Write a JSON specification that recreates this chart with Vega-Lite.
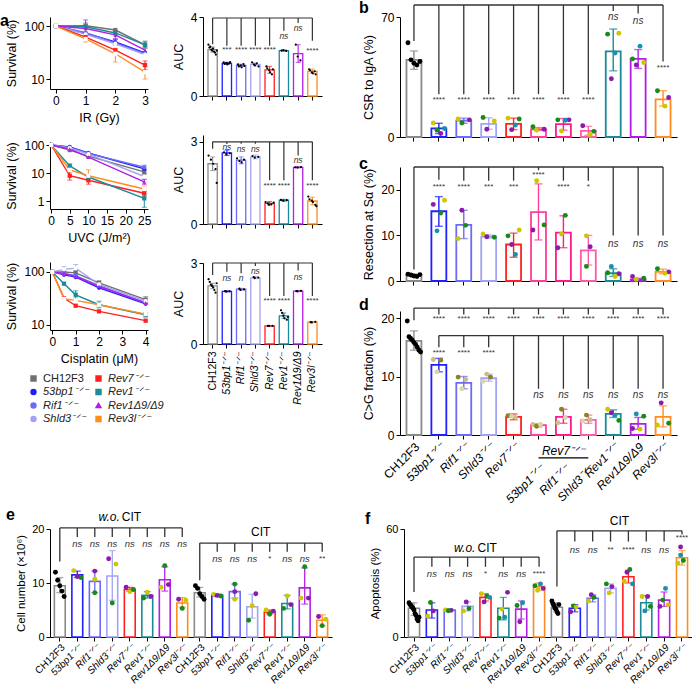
{
"$schema": "https://vega.github.io/schema/vega-lite/v6.json",
"background": "white",
"padding": {"left": 0, "top": 0, "right": 0, "bottom": 0},
"spacing": 1,
"resolve": {"scale": {"color": "independent", "fill": "independent", "shape": "independent", "xOffset": "independent"}, "legend": {"color": "independent", "fill": "independent", "shape": "independent"}},
"vconcat": [
{"spacing": 37,
 "resolve": {"scale": {"color": "independent", "fill": "independent", "shape": "independent", "xOffset": "independent"}, "legend": {"color": "independent", "fill": "independent", "shape": "independent"}},
 "hconcat": [
  {"spacing": 8,
   "resolve": {"scale": {"color": "independent", "fill": "independent", "shape": "independent", "xOffset": "independent"}, "legend": {"color": "independent", "fill": "independent", "shape": "independent"}},
   "hconcat": [
    {"bounds": "flush", "spacing": 53,
     "resolve": {"scale": {"color": "independent", "fill": "independent", "shape": "independent", "xOffset": "independent"}, "legend": {"color": "independent", "fill": "independent", "shape": "independent"}},
     "vconcat": [
      {"width": 98, "height": 72,
       "title": {"text": "a", "dx": -50, "offset": -12},
       "data": {"name": "ir"},
       "encoding": {
        "x": {"field": "x", "type": "quantitative", "scale": {"domain": [-0.2, 3.1], "nice": false, "zero": false}, "axis": {"values": [0,1,2,3], "title": "IR (Gy)"}},
        "y": {"field": "v", "type": "quantitative", "scale": {"type": "log", "domain": [6.5, 148], "nice": false}, "axis": {"values": [10, 100], "title": "Survival (%)"}},
        "color": {"field": "g", "type": "nominal", "scale": {"domain": ["CH12F3","53bp1⁻ᐟ⁻","Rif1⁻ᐟ⁻","Shld3⁻ᐟ⁻","Rev7⁻ᐟ⁻","Rev1⁻ᐟ⁻","Rev1Δ9/Δ9","Rev3l⁻ᐟ⁻"], "range": ["#707070","#1f1fff","#6b6bf5","#a3a3f5","#ff1f1f","#1b8a98","#b21ee8","#ff8c1f"]}, "legend": null}
       },
       "layer": [
        {"mark": {"type": "line", "strokeWidth": 1.4}},
        {"data": {"name": "irE"}, "mark": {"type": "errorbar", "ticks": {"size": 5}, "thickness": 1},
         "encoding": {"y": {"field": "lo", "type": "quantitative", "title": "Survival (%)"}, "y2": {"field": "hi"}}},
        {"mark": {"type": "point", "filled": true, "size": 18, "opacity": 1},
         "encoding": {
          "shape": {"field": "g", "type": "nominal", "scale": {"domain": ["CH12F3","53bp1⁻ᐟ⁻","Rif1⁻ᐟ⁻","Shld3⁻ᐟ⁻","Rev7⁻ᐟ⁻","Rev1⁻ᐟ⁻","Rev1Δ9/Δ9","Rev3l⁻ᐟ⁻"], "range": ["square","circle","circle","circle","square","square","triangle-up","square"]}, "legend": null},
          "fill": {"field": "g", "type": "nominal", "scale": {"domain": ["CH12F3","53bp1⁻ᐟ⁻","Rif1⁻ᐟ⁻","Shld3⁻ᐟ⁻","Rev7⁻ᐟ⁻","Rev1⁻ᐟ⁻","Rev1Δ9/Δ9","Rev3l⁻ᐟ⁻"], "range": ["#707070","#1f1fff","#6b6bf5","#ffffff","#ff1f1f","#1b8a98","#b21ee8","#ffffff"]}, "legend": null}}}
       ]},
      {"width": 98, "height": 67,
       "data": {"name": "uvc"},
       "encoding": {
        "x": {"field": "x", "type": "quantitative", "scale": {"domain": [-0.3, 26], "nice": false, "zero": false}, "axis": {"values": [0,5,10,15,20,25], "title": "UVC (J/m²)"}},
        "y": {"field": "v", "type": "quantitative", "scale": {"type": "log", "domain": [0.52, 128], "nice": false}, "axis": {"values": [1, 10, 100], "title": "Survival (%)"}},
        "color": {"field": "g", "type": "nominal", "scale": {"domain": ["CH12F3","53bp1⁻ᐟ⁻","Rif1⁻ᐟ⁻","Shld3⁻ᐟ⁻","Rev7⁻ᐟ⁻","Rev1⁻ᐟ⁻","Rev1Δ9/Δ9","Rev3l⁻ᐟ⁻"], "range": ["#707070","#1f1fff","#6b6bf5","#a3a3f5","#ff1f1f","#1b8a98","#b21ee8","#ff8c1f"]}, "legend": null}
       },
       "layer": [
        {"mark": {"type": "line", "strokeWidth": 1.4}},
        {"data": {"name": "uvcE"}, "mark": {"type": "errorbar", "ticks": {"size": 5}, "thickness": 1},
         "encoding": {"y": {"field": "lo", "type": "quantitative", "title": "Survival (%)"}, "y2": {"field": "hi"}}},
        {"mark": {"type": "point", "filled": true, "size": 18, "opacity": 1},
         "encoding": {
          "shape": {"field": "g", "type": "nominal", "scale": {"domain": ["CH12F3","53bp1⁻ᐟ⁻","Rif1⁻ᐟ⁻","Shld3⁻ᐟ⁻","Rev7⁻ᐟ⁻","Rev1⁻ᐟ⁻","Rev1Δ9/Δ9","Rev3l⁻ᐟ⁻"], "range": ["square","circle","circle","circle","square","square","triangle-up","square"]}, "legend": null},
          "fill": {"field": "g", "type": "nominal", "scale": {"domain": ["CH12F3","53bp1⁻ᐟ⁻","Rif1⁻ᐟ⁻","Shld3⁻ᐟ⁻","Rev7⁻ᐟ⁻","Rev1⁻ᐟ⁻","Rev1Δ9/Δ9","Rev3l⁻ᐟ⁻"], "range": ["#707070","#1f1fff","#6b6bf5","#ffffff","#ff1f1f","#1b8a98","#b21ee8","#ffffff"]}, "legend": null}}}
       ]},
      {"width": 98, "height": 68,
       "data": {"name": "cis"},
       "encoding": {
        "x": {"field": "x", "type": "quantitative", "scale": {"domain": [-0.1, 4.1], "nice": false, "zero": false}, "axis": {"values": [0,1,2,3,4], "title": "Cisplatin (μM)"}},
        "y": {"field": "v", "type": "quantitative", "scale": {"type": "log", "domain": [8, 154], "nice": false}, "axis": {"values": [10, 100], "title": "Survival (%)"}},
        "color": {"field": "g", "type": "nominal", "scale": {"domain": ["CH12F3","53bp1⁻ᐟ⁻","Rif1⁻ᐟ⁻","Shld3⁻ᐟ⁻","Rev7⁻ᐟ⁻","Rev1⁻ᐟ⁻","Rev1Δ9/Δ9","Rev3l⁻ᐟ⁻"], "range": ["#707070","#1f1fff","#6b6bf5","#a3a3f5","#ff1f1f","#1b8a98","#b21ee8","#ff8c1f"]},
          "legend": {"title": null, "orient": "none", "legendX": -22, "legendY": 111, "columns": 2, "columnPadding": 4, "rowPadding": 1.5, "labelFontSize": 11, "symbolSize": 24, "labelOffset": 4, "symbolStrokeWidth": 1.5, "labelColor": "#222",
            "encode": {"labels": {"update": {"fontStyle": {"signal": "datum.label === 'CH12F3' ? 'normal' : 'italic'"}}}}}}
       },
       "layer": [
        {"mark": {"type": "line", "strokeWidth": 1.4}},
        {"data": {"name": "cisE"}, "mark": {"type": "errorbar", "ticks": {"size": 5}, "thickness": 1},
         "encoding": {"y": {"field": "lo", "type": "quantitative", "title": "Survival (%)"}, "y2": {"field": "hi"}}},
        {"mark": {"type": "point", "filled": true, "size": 18, "opacity": 1},
         "encoding": {
          "shape": {"field": "g", "type": "nominal", "scale": {"domain": ["CH12F3","53bp1⁻ᐟ⁻","Rif1⁻ᐟ⁻","Shld3⁻ᐟ⁻","Rev7⁻ᐟ⁻","Rev1⁻ᐟ⁻","Rev1Δ9/Δ9","Rev3l⁻ᐟ⁻"], "range": ["square","circle","circle","circle","square","square","triangle-up","square"]}},
          "fill": {"field": "g", "type": "nominal", "scale": {"domain": ["CH12F3","53bp1⁻ᐟ⁻","Rif1⁻ᐟ⁻","Shld3⁻ᐟ⁻","Rev7⁻ᐟ⁻","Rev1⁻ᐟ⁻","Rev1Δ9/Δ9","Rev3l⁻ᐟ⁻"], "range": ["#707070","#1f1fff","#6b6bf5","#ffffff","#ff1f1f","#1b8a98","#b21ee8","#ffffff"]}}}}
       ]}
     ]},
    {"bounds": "flush", "spacing": 39,
     "resolve": {"scale": {"color": "independent", "fill": "independent", "shape": "independent", "xOffset": "independent"}, "legend": {"color": "independent", "fill": "independent", "shape": "independent"}},
     "vconcat": [
      {"width": 119, "height": 79,
       "title": {"text": " ", "offset": -12},
       "resolve": {"scale": {"color": "independent", "xOffset": "independent"}},
       "layer": [
        {"data": {"name": "a1"}, "mark": {"type": "bar", "filled": false, "strokeWidth": 1.3},
         "encoding": {"x": {"field": "g", "type": "nominal", "title": null, "scale": {"domain": ["CH12F3","53bp1⁻ᐟ⁻","Rif1⁻ᐟ⁻","Shld3⁻ᐟ⁻","Rev7⁻ᐟ⁻","Rev1⁻ᐟ⁻","Rev1Δ9/Δ9","Rev3l⁻ᐟ⁻"], "paddingInner": 0.35, "paddingOuter": 0.35}, "axis": {"labels": false}},
          "y": {"field": "v", "type": "quantitative", "title": "AUC", "scale": {"domain": [0, 4], "nice": false}, "axis": {"values": [0,1,2,3,4]}},
          "color": {"field": "g", "type": "nominal", "scale": {"domain": ["CH12F3","53bp1⁻ᐟ⁻","Rif1⁻ᐟ⁻","Shld3⁻ᐟ⁻","Rev7⁻ᐟ⁻","Rev1⁻ᐟ⁻","Rev1Δ9/Δ9","Rev3l⁻ᐟ⁻"], "range": ["#8a8a8a","#1f1fff","#6b6bf5","#a3a3f5","#ff2020","#1b8a98","#b21ee8","#ff8c1f"]}, "legend": null}}},
        {"data": {"name": "a1"}, "mark": {"type": "errorbar", "ticks": {"size": 5}, "thickness": 1.1},
         "encoding": {"x": {"field": "g", "type": "nominal", "title": null}, "y": {"field": "lo", "type": "quantitative", "title": "AUC"}, "y2": {"field": "hi"},
          "color": {"field": "g", "type": "nominal", "scale": {"domain": ["CH12F3","53bp1⁻ᐟ⁻","Rif1⁻ᐟ⁻","Shld3⁻ᐟ⁻","Rev7⁻ᐟ⁻","Rev1⁻ᐟ⁻","Rev1Δ9/Δ9","Rev3l⁻ᐟ⁻"], "range": ["#8a8a8a","#1f1fff","#6b6bf5","#a3a3f5","#ff2020","#1b8a98","#b21ee8","#ff8c1f"]}, "legend": null}}},
        {"data": {"name": "a1p"}, "mark": {"type": "circle", "size": 5, "opacity": 1, "color": "#000"},
         "encoding": {"x": {"field": "g", "type": "nominal", "title": null}, "xOffset": {"field": "n", "type": "ordinal"}, "y": {"field": "v", "type": "quantitative", "title": "AUC"}}},
        {"data": {"name": "a1s"}, "mark": {"type": "rule", "color": "#333", "strokeWidth": 1.2},
         "encoding": {"x": {"field": "g", "type": "nominal", "title": null}, "y": {"field": "t", "type": "quantitative", "title": "AUC"}, "y2": {"field": "b"}}},
        {"data": {"values": [{}]}, "mark": {"type": "rule", "color": "#333", "strokeWidth": 1.2},
         "encoding": {"x": {"datum": "CH12F3"}, "x2": {"datum": "Rev3l⁻ᐟ⁻"}, "y": {"datum": 3.95}}},
        {"data": {"name": "a1s"}, "transform": [{"filter": "datum.lab == 'ns' || datum.lab == 'n'"}], "mark": {"type": "text", "fontSize": 8.5, "fontStyle": "italic", "color": "#333"},
         "encoding": {"x": {"field": "g", "type": "nominal", "title": null}, "y": {"field": "ly", "type": "quantitative", "title": "AUC"}, "text": {"field": "lab"}}},
        {"data": {"name": "a1s"}, "transform": [{"filter": "indexof(datum.lab, '*') >= 0"}], "mark": {"type": "text", "fontSize": 8, "color": "#333"},
         "encoding": {"x": {"field": "g", "type": "nominal", "title": null}, "y": {"field": "ly", "type": "quantitative", "title": "AUC"}, "text": {"field": "lab"}}}
       ]},
      {"width": 119, "height": 89,
       "resolve": {"scale": {"color": "independent", "xOffset": "independent"}},
       "layer": [
        {"data": {"name": "a2"}, "mark": {"type": "bar", "filled": false, "strokeWidth": 1.3},
         "encoding": {"x": {"field": "g", "type": "nominal", "title": null, "scale": {"domain": ["CH12F3","53bp1⁻ᐟ⁻","Rif1⁻ᐟ⁻","Shld3⁻ᐟ⁻","Rev7⁻ᐟ⁻","Rev1⁻ᐟ⁻","Rev1Δ9/Δ9","Rev3l⁻ᐟ⁻"], "paddingInner": 0.35, "paddingOuter": 0.35}, "axis": {"labels": false}},
          "y": {"field": "v", "type": "quantitative", "title": "AUC", "scale": {"domain": [0, 3.25], "nice": false}, "axis": {"values": [0,1,2,3]}},
          "color": {"field": "g", "type": "nominal", "scale": {"domain": ["CH12F3","53bp1⁻ᐟ⁻","Rif1⁻ᐟ⁻","Shld3⁻ᐟ⁻","Rev7⁻ᐟ⁻","Rev1⁻ᐟ⁻","Rev1Δ9/Δ9","Rev3l⁻ᐟ⁻"], "range": ["#8a8a8a","#1f1fff","#6b6bf5","#a3a3f5","#ff2020","#1b8a98","#b21ee8","#ff8c1f"]}, "legend": null}}},
        {"data": {"name": "a2"}, "mark": {"type": "errorbar", "ticks": {"size": 5}, "thickness": 1.1},
         "encoding": {"x": {"field": "g", "type": "nominal", "title": null}, "y": {"field": "lo", "type": "quantitative", "title": "AUC"}, "y2": {"field": "hi"},
          "color": {"field": "g", "type": "nominal", "scale": {"domain": ["CH12F3","53bp1⁻ᐟ⁻","Rif1⁻ᐟ⁻","Shld3⁻ᐟ⁻","Rev7⁻ᐟ⁻","Rev1⁻ᐟ⁻","Rev1Δ9/Δ9","Rev3l⁻ᐟ⁻"], "range": ["#8a8a8a","#1f1fff","#6b6bf5","#a3a3f5","#ff2020","#1b8a98","#b21ee8","#ff8c1f"]}, "legend": null}}},
        {"data": {"name": "a2p"}, "mark": {"type": "circle", "size": 5, "opacity": 1, "color": "#000"},
         "encoding": {"x": {"field": "g", "type": "nominal", "title": null}, "xOffset": {"field": "n", "type": "ordinal"}, "y": {"field": "v", "type": "quantitative", "title": "AUC"}}},
        {"data": {"name": "a2s"}, "mark": {"type": "rule", "color": "#333", "strokeWidth": 1.2},
         "encoding": {"x": {"field": "g", "type": "nominal", "title": null}, "y": {"field": "t", "type": "quantitative", "title": "AUC"}, "y2": {"field": "b"}}},
        {"data": {"values": [{}]}, "mark": {"type": "rule", "color": "#333", "strokeWidth": 1.2},
         "encoding": {"x": {"datum": "CH12F3"}, "x2": {"datum": "Rev3l⁻ᐟ⁻"}, "y": {"datum": 3.0}}},
        {"data": {"name": "a2s"}, "transform": [{"filter": "datum.lab == 'ns' || datum.lab == 'n'"}], "mark": {"type": "text", "fontSize": 8.5, "fontStyle": "italic", "color": "#333"},
         "encoding": {"x": {"field": "g", "type": "nominal", "title": null}, "y": {"field": "ly", "type": "quantitative", "title": "AUC"}, "text": {"field": "lab"}}},
        {"data": {"name": "a2s"}, "transform": [{"filter": "indexof(datum.lab, '*') >= 0"}], "mark": {"type": "text", "fontSize": 8, "color": "#333"},
         "encoding": {"x": {"field": "g", "type": "nominal", "title": null}, "y": {"field": "ly", "type": "quantitative", "title": "AUC"}, "text": {"field": "lab"}}}
       ]},
      {"width": 119, "height": 81,
       "resolve": {"scale": {"color": "independent", "xOffset": "independent"}},
       "layer": [
        {"data": {"name": "a3"}, "mark": {"type": "bar", "filled": false, "strokeWidth": 1.3},
         "encoding": {"x": {"field": "g", "type": "nominal", "title": null, "scale": {"domain": ["CH12F3","53bp1⁻ᐟ⁻","Rif1⁻ᐟ⁻","Shld3⁻ᐟ⁻","Rev7⁻ᐟ⁻","Rev1⁻ᐟ⁻","Rev1Δ9/Δ9","Rev3l⁻ᐟ⁻"], "paddingInner": 0.35, "paddingOuter": 0.35},
            "axis": {"labelAngle": -90, "labelFontSize": 10.5, "labelPadding": 3, "labelFontStyle": {"condition": {"test": "datum.value != 'CH12F3'", "value": "italic"}, "value": "normal"}}},
          "y": {"field": "v", "type": "quantitative", "title": "AUC", "scale": {"domain": [0, 3], "nice": false}, "axis": {"values": [0,1,2,3]}},
          "color": {"field": "g", "type": "nominal", "scale": {"domain": ["CH12F3","53bp1⁻ᐟ⁻","Rif1⁻ᐟ⁻","Shld3⁻ᐟ⁻","Rev7⁻ᐟ⁻","Rev1⁻ᐟ⁻","Rev1Δ9/Δ9","Rev3l⁻ᐟ⁻"], "range": ["#8a8a8a","#1f1fff","#6b6bf5","#a3a3f5","#ff2020","#1b8a98","#b21ee8","#ff8c1f"]}, "legend": null}}},
        {"data": {"name": "a3"}, "mark": {"type": "errorbar", "ticks": {"size": 5}, "thickness": 1.1},
         "encoding": {"x": {"field": "g", "type": "nominal", "title": null}, "y": {"field": "lo", "type": "quantitative", "title": "AUC"}, "y2": {"field": "hi"},
          "color": {"field": "g", "type": "nominal", "scale": {"domain": ["CH12F3","53bp1⁻ᐟ⁻","Rif1⁻ᐟ⁻","Shld3⁻ᐟ⁻","Rev7⁻ᐟ⁻","Rev1⁻ᐟ⁻","Rev1Δ9/Δ9","Rev3l⁻ᐟ⁻"], "range": ["#8a8a8a","#1f1fff","#6b6bf5","#a3a3f5","#ff2020","#1b8a98","#b21ee8","#ff8c1f"]}, "legend": null}}},
        {"data": {"name": "a3p"}, "mark": {"type": "circle", "size": 5, "opacity": 1, "color": "#000"},
         "encoding": {"x": {"field": "g", "type": "nominal", "title": null}, "xOffset": {"field": "n", "type": "ordinal"}, "y": {"field": "v", "type": "quantitative", "title": "AUC"}}},
        {"data": {"name": "a3s"}, "mark": {"type": "rule", "color": "#333", "strokeWidth": 1.2},
         "encoding": {"x": {"field": "g", "type": "nominal", "title": null}, "y": {"field": "t", "type": "quantitative", "title": "AUC"}, "y2": {"field": "b"}}},
        {"data": {"values": [{}]}, "mark": {"type": "rule", "color": "#333", "strokeWidth": 1.2},
         "encoding": {"x": {"datum": "CH12F3"}, "x2": {"datum": "Rev3l⁻ᐟ⁻"}, "y": {"datum": 3.0}}},
        {"data": {"name": "a3s"}, "transform": [{"filter": "datum.lab == 'ns' || datum.lab == 'n'"}], "mark": {"type": "text", "fontSize": 8.5, "fontStyle": "italic", "color": "#333"},
         "encoding": {"x": {"field": "g", "type": "nominal", "title": null}, "y": {"field": "ly", "type": "quantitative", "title": "AUC"}, "text": {"field": "lab"}}},
        {"data": {"name": "a3s"}, "transform": [{"filter": "indexof(datum.lab, '*') >= 0"}], "mark": {"type": "text", "fontSize": 8, "color": "#333"},
         "encoding": {"x": {"field": "g", "type": "nominal", "title": null}, "y": {"field": "ly", "type": "quantitative", "title": "AUC"}, "text": {"field": "lab"}}}
       ]}
     ]}
   ]},
  {"bounds": "flush", "spacing": 30,
   "resolve": {"scale": {"color": "independent", "fill": "independent", "shape": "independent", "xOffset": "independent"}, "legend": {"color": "independent", "fill": "independent", "shape": "independent"}},
   "vconcat": [
    {"width": 277, "height": 120,
     "title": {"text": "b", "dx": -41, "offset": -12},
     "resolve": {"scale": {"color": "independent", "xOffset": "independent"}},
     "layer": [
      {"data": {"name": "b"}, "mark": {"type": "bar", "filled": false, "strokeWidth": 1.8},
       "encoding": {"x": {"field": "g", "type": "nominal", "title": null, "scale": {"domain": ["CH12F3","53bp1⁻ᐟ⁻","Rif1⁻ᐟ⁻","Shld3⁻ᐟ⁻","Rev7⁻ᐟ⁻","R7:53bp1⁻ᐟ⁻","R7:Rif1⁻ᐟ⁻","R7:Shld3⁻ᐟ⁻","Rev1⁻ᐟ⁻","Rev1Δ9/Δ9","Rev3l⁻ᐟ⁻"], "paddingInner": 0.4, "paddingOuter": 0.26}, "axis": {"labels": false}},
        "y": {"field": "v", "type": "quantitative", "title": "CSR to IgA (%)", "scale": {"domain": [0, 70], "nice": false}, "axis": {"values": [0,10,20,30,40,50,60,70]}},
        "color": {"field": "g", "type": "nominal", "scale": {"domain": ["CH12F3","53bp1⁻ᐟ⁻","Rif1⁻ᐟ⁻","Shld3⁻ᐟ⁻","Rev7⁻ᐟ⁻","R7:53bp1⁻ᐟ⁻","R7:Rif1⁻ᐟ⁻","R7:Shld3⁻ᐟ⁻","Rev1⁻ᐟ⁻","Rev1Δ9/Δ9","Rev3l⁻ᐟ⁻"], "range": ["#8a8a8a","#1f1fff","#6b6bf5","#a3a3f5","#ff2020","#ff3d9a","#ff1a8c","#ff5aa8","#1b8a98","#b21ee8","#ff8c1f"]}, "legend": null}}},
      {"data": {"name": "b"}, "mark": {"type": "errorbar", "ticks": {"size": 8}, "thickness": 1.4},
       "encoding": {"x": {"field": "g", "type": "nominal", "title": null}, "y": {"field": "lo", "type": "quantitative", "title": "CSR to IgA (%)"}, "y2": {"field": "hi"},
        "color": {"field": "g", "type": "nominal", "scale": {"domain": ["CH12F3","53bp1⁻ᐟ⁻","Rif1⁻ᐟ⁻","Shld3⁻ᐟ⁻","Rev7⁻ᐟ⁻","R7:53bp1⁻ᐟ⁻","R7:Rif1⁻ᐟ⁻","R7:Shld3⁻ᐟ⁻","Rev1⁻ᐟ⁻","Rev1Δ9/Δ9","Rev3l⁻ᐟ⁻"], "range": ["#8a8a8a","#1f1fff","#6b6bf5","#a3a3f5","#ff2020","#ff3d9a","#ff1a8c","#ff5aa8","#1b8a98","#b21ee8","#ff8c1f"]}, "legend": null}}},
      {"data": {"name": "bp"}, "transform": [{"filter": "datum.r != 'k'"}], "mark": {"type": "circle", "size": 24, "opacity": 1},
       "encoding": {"x": {"field": "g", "type": "nominal", "title": null}, "xOffset": {"field": "n", "type": "ordinal"}, "y": {"field": "v", "type": "quantitative", "title": "CSR to IgA (%)"},
        "color": {"field": "r", "type": "nominal", "scale": {"domain": ["g","y","p","t","ol","tn","lt"], "range": ["#178a17","#cdc600","#8c1aaa","#1a8fb0","#8a8420","#cbbd85","#ddd3a5"]}, "legend": null}}},
      {"data": {"name": "bp"}, "transform": [{"filter": "datum.r == 'k'"}], "mark": {"type": "circle", "size": 24, "opacity": 1, "color": "#000"},
       "encoding": {"x": {"field": "g", "type": "nominal", "title": null}, "xOffset": {"field": "n", "type": "ordinal"}, "y": {"field": "v", "type": "quantitative", "title": "CSR to IgA (%)"}}},
      {"data": {"name": "bs"}, "mark": {"type": "rule", "color": "#333", "strokeWidth": 1.3},
       "encoding": {"x": {"field": "g", "type": "nominal", "title": null}, "y": {"field": "t", "type": "quantitative", "title": "CSR to IgA (%)"}, "y2": {"field": "b"}}},
      {"data": {"values": [{}]}, "mark": {"type": "rule", "color": "#333", "strokeWidth": 1.3},
       "encoding": {"x": {"datum": "CH12F3"}, "x2": {"datum": "Rev3l⁻ᐟ⁻"}, "y": {"datum": 77}}},
      {"data": {"name": "bs"}, "transform": [{"filter": "datum.lab == 'ns'"}], "mark": {"type": "text", "fontSize": 10, "fontStyle": "italic", "color": "#333"},
       "encoding": {"x": {"field": "g", "type": "nominal", "title": null}, "y": {"field": "ly", "type": "quantitative", "title": "CSR to IgA (%)"}, "text": {"field": "lab"}}},
      {"data": {"name": "bs"}, "transform": [{"filter": "indexof(datum.lab, '*') >= 0"}], "mark": {"type": "text", "fontSize": 8, "color": "#333"},
       "encoding": {"x": {"field": "g", "type": "nominal", "title": null}, "y": {"field": "ly", "type": "quantitative", "title": "CSR to IgA (%)"}, "text": {"field": "lab"}}}
     ]},
    {"width": 277, "height": 114,
     "title": {"text": "c", "dx": -41, "offset": -6},
     "resolve": {"scale": {"color": "independent", "xOffset": "independent"}},
     "layer": [
      {"data": {"name": "c"}, "mark": {"type": "bar", "filled": false, "strokeWidth": 1.8},
       "encoding": {"x": {"field": "g", "type": "nominal", "title": null, "scale": {"domain": ["CH12F3","53bp1⁻ᐟ⁻","Rif1⁻ᐟ⁻","Shld3⁻ᐟ⁻","Rev7⁻ᐟ⁻","R7:53bp1⁻ᐟ⁻","R7:Rif1⁻ᐟ⁻","R7:Shld3⁻ᐟ⁻","Rev1⁻ᐟ⁻","Rev1Δ9/Δ9","Rev3l⁻ᐟ⁻"], "paddingInner": 0.4, "paddingOuter": 0.26}, "axis": {"labels": false}},
        "y": {"field": "v", "type": "quantitative", "title": "Resection at Sα (%)", "scale": {"domain": [0, 25], "nice": false}, "axis": {"values": [0,5,10,15,20,25]}},
        "color": {"field": "g", "type": "nominal", "scale": {"domain": ["CH12F3","53bp1⁻ᐟ⁻","Rif1⁻ᐟ⁻","Shld3⁻ᐟ⁻","Rev7⁻ᐟ⁻","R7:53bp1⁻ᐟ⁻","R7:Rif1⁻ᐟ⁻","R7:Shld3⁻ᐟ⁻","Rev1⁻ᐟ⁻","Rev1Δ9/Δ9","Rev3l⁻ᐟ⁻"], "range": ["#8a8a8a","#1f1fff","#6b6bf5","#a3a3f5","#ff2020","#ff3d9a","#ff1a8c","#ff5aa8","#1b8a98","#b21ee8","#ff8c1f"]}, "legend": null}}},
      {"data": {"name": "c"}, "mark": {"type": "errorbar", "ticks": {"size": 8}, "thickness": 1.4},
       "encoding": {"x": {"field": "g", "type": "nominal", "title": null}, "y": {"field": "lo", "type": "quantitative", "title": "Resection at Sα (%)"}, "y2": {"field": "hi"},
        "color": {"field": "g", "type": "nominal", "scale": {"domain": ["CH12F3","53bp1⁻ᐟ⁻","Rif1⁻ᐟ⁻","Shld3⁻ᐟ⁻","Rev7⁻ᐟ⁻","R7:53bp1⁻ᐟ⁻","R7:Rif1⁻ᐟ⁻","R7:Shld3⁻ᐟ⁻","Rev1⁻ᐟ⁻","Rev1Δ9/Δ9","Rev3l⁻ᐟ⁻"], "range": ["#8a8a8a","#1f1fff","#6b6bf5","#a3a3f5","#ff2020","#ff3d9a","#ff1a8c","#ff5aa8","#1b8a98","#b21ee8","#ff8c1f"]}, "legend": null}}},
      {"data": {"name": "cp"}, "transform": [{"filter": "datum.r != 'k'"}], "mark": {"type": "circle", "size": 24, "opacity": 1},
       "encoding": {"x": {"field": "g", "type": "nominal", "title": null}, "xOffset": {"field": "n", "type": "ordinal"}, "y": {"field": "v", "type": "quantitative", "title": "Resection at Sα (%)"},
        "color": {"field": "r", "type": "nominal", "scale": {"domain": ["g","y","p","t","ol","tn","lt"], "range": ["#178a17","#cdc600","#8c1aaa","#1a8fb0","#8a8420","#cbbd85","#ddd3a5"]}, "legend": null}}},
      {"data": {"name": "cp"}, "transform": [{"filter": "datum.r == 'k'"}], "mark": {"type": "circle", "size": 24, "opacity": 1, "color": "#000"},
       "encoding": {"x": {"field": "g", "type": "nominal", "title": null}, "xOffset": {"field": "n", "type": "ordinal"}, "y": {"field": "v", "type": "quantitative", "title": "Resection at Sα (%)"}}},
      {"data": {"name": "cs"}, "mark": {"type": "rule", "color": "#333", "strokeWidth": 1.3},
       "encoding": {"x": {"field": "g", "type": "nominal", "title": null}, "y": {"field": "t", "type": "quantitative", "title": "Resection at Sα (%)"}, "y2": {"field": "b"}}},
      {"data": {"values": [{}]}, "mark": {"type": "rule", "color": "#333", "strokeWidth": 1.3},
       "encoding": {"x": {"datum": "CH12F3"}, "x2": {"datum": "Rev3l⁻ᐟ⁻"}, "y": {"datum": 25}}},
      {"data": {"name": "cs"}, "transform": [{"filter": "datum.lab == 'ns'"}], "mark": {"type": "text", "fontSize": 10, "fontStyle": "italic", "color": "#333"},
       "encoding": {"x": {"field": "g", "type": "nominal", "title": null}, "y": {"field": "ly", "type": "quantitative", "title": "Resection at Sα (%)"}, "text": {"field": "lab"}}},
      {"data": {"name": "cs"}, "transform": [{"filter": "indexof(datum.lab, '*') >= 0"}], "mark": {"type": "text", "fontSize": 8, "color": "#333"},
       "encoding": {"x": {"field": "g", "type": "nominal", "title": null}, "y": {"field": "ly", "type": "quantitative", "title": "Resection at Sα (%)"}, "text": {"field": "lab"}}}
     ]},
    {"width": 277, "height": 124,
     "title": {"text": "d", "dx": -41, "offset": -6},
     "resolve": {"scale": {"color": "independent", "xOffset": "independent"}},
     "layer": [
      {"data": {"name": "d"}, "mark": {"type": "bar", "filled": false, "strokeWidth": 1.8},
       "encoding": {"x": {"field": "g", "type": "nominal", "title": null, "scale": {"domain": ["CH12F3","53bp1⁻ᐟ⁻","Rif1⁻ᐟ⁻","Shld3⁻ᐟ⁻","Rev7⁻ᐟ⁻","R7:53bp1⁻ᐟ⁻","R7:Rif1⁻ᐟ⁻","R7:Shld3⁻ᐟ⁻","Rev1⁻ᐟ⁻","Rev1Δ9/Δ9","Rev3l⁻ᐟ⁻"], "paddingInner": 0.4, "paddingOuter": 0.26},
          "axis": {"labelAngle": -45, "labelFontSize": 12, "labelOverlap": false, "labelExpr": "replace(datum.label, 'R7:', '')",
            "labelPadding": {"condition": {"test": "indexof(datum.value, 'R7:') == 0", "value": 24}, "value": 2},
            "labelFontStyle": {"condition": {"test": "datum.value != 'CH12F3'", "value": "italic"}, "value": "normal"}}},
        "y": {"field": "v", "type": "quantitative", "title": "C>G fraction (%)", "scale": {"domain": [0, 21.2], "nice": false}, "axis": {"values": [0,5,10,15,20]}},
        "color": {"field": "g", "type": "nominal", "scale": {"domain": ["CH12F3","53bp1⁻ᐟ⁻","Rif1⁻ᐟ⁻","Shld3⁻ᐟ⁻","Rev7⁻ᐟ⁻","R7:53bp1⁻ᐟ⁻","R7:Rif1⁻ᐟ⁻","R7:Shld3⁻ᐟ⁻","Rev1⁻ᐟ⁻","Rev1Δ9/Δ9","Rev3l⁻ᐟ⁻"], "range": ["#8a8a8a","#1f1fff","#6b6bf5","#a3a3f5","#ff2020","#ff3d9a","#ff1a8c","#ff5aa8","#1b8a98","#b21ee8","#ff8c1f"]}, "legend": null}}},
      {"data": {"name": "d"}, "mark": {"type": "errorbar", "ticks": {"size": 8}, "thickness": 1.4},
       "encoding": {"x": {"field": "g", "type": "nominal", "title": null}, "y": {"field": "lo", "type": "quantitative", "title": "C>G fraction (%)"}, "y2": {"field": "hi"},
        "color": {"field": "g", "type": "nominal", "scale": {"domain": ["CH12F3","53bp1⁻ᐟ⁻","Rif1⁻ᐟ⁻","Shld3⁻ᐟ⁻","Rev7⁻ᐟ⁻","R7:53bp1⁻ᐟ⁻","R7:Rif1⁻ᐟ⁻","R7:Shld3⁻ᐟ⁻","Rev1⁻ᐟ⁻","Rev1Δ9/Δ9","Rev3l⁻ᐟ⁻"], "range": ["#8a8a8a","#1f1fff","#6b6bf5","#a3a3f5","#ff2020","#ff3d9a","#ff1a8c","#ff5aa8","#1b8a98","#b21ee8","#ff8c1f"]}, "legend": null}}},
      {"data": {"name": "dp"}, "transform": [{"filter": "datum.r != 'k'"}], "mark": {"type": "circle", "size": 24, "opacity": 1},
       "encoding": {"x": {"field": "g", "type": "nominal", "title": null}, "xOffset": {"field": "n", "type": "ordinal"}, "y": {"field": "v", "type": "quantitative", "title": "C>G fraction (%)"},
        "color": {"field": "r", "type": "nominal", "scale": {"domain": ["g","y","p","t","ol","tn","lt"], "range": ["#178a17","#cdc600","#8c1aaa","#1a8fb0","#8a8420","#cbbd85","#ddd3a5"]}, "legend": null}}},
      {"data": {"name": "dp"}, "transform": [{"filter": "datum.r == 'k'"}], "mark": {"type": "circle", "size": 24, "opacity": 1, "color": "#000"},
       "encoding": {"x": {"field": "g", "type": "nominal", "title": null}, "xOffset": {"field": "n", "type": "ordinal"}, "y": {"field": "v", "type": "quantitative", "title": "C>G fraction (%)"}}},
      {"data": {"name": "ds"}, "mark": {"type": "rule", "color": "#333", "strokeWidth": 1.3},
       "encoding": {"x": {"field": "g", "type": "nominal", "title": null}, "y": {"field": "t", "type": "quantitative", "title": "C>G fraction (%)"}, "y2": {"field": "b"}}},
      {"data": {"values": [{}]}, "mark": {"type": "rule", "color": "#333", "strokeWidth": 1.3},
       "encoding": {"x": {"datum": "CH12F3"}, "x2": {"datum": "Rev3l⁻ᐟ⁻"}, "y": {"datum": 21.7}}},
      {"data": {"values": [{}]}, "mark": {"type": "rule", "color": "#333", "strokeWidth": 1.3},
       "encoding": {"x": {"datum": "53bp1⁻ᐟ⁻"}, "x2": {"datum": "Rev3l⁻ᐟ⁻"}, "y": {"datum": 17}}},
      {"data": {"values": [{}]}, "mark": {"type": "rule", "color": "#000", "strokeWidth": 1.3},
       "encoding": {"x": {"datum": "R7:53bp1⁻ᐟ⁻"}, "x2": {"datum": "R7:Shld3⁻ᐟ⁻"}, "y": {"datum": -3.9}}},
      {"data": {"values": [{"t": "Rev7⁻ᐟ⁻"}]}, "mark": {"type": "text", "fontSize": 12, "fontStyle": "italic", "color": "#000"},
       "encoding": {"x": {"datum": "R7:Rif1⁻ᐟ⁻"}, "y": {"datum": -2.7}, "text": {"field": "t"}}},
      {"data": {"name": "ds"}, "transform": [{"filter": "datum.lab == 'ns'"}], "mark": {"type": "text", "fontSize": 10, "fontStyle": "italic", "color": "#333"},
       "encoding": {"x": {"field": "g", "type": "nominal", "title": null}, "y": {"field": "ly", "type": "quantitative", "title": "C>G fraction (%)"}, "text": {"field": "lab"}}},
      {"data": {"name": "ds"}, "transform": [{"filter": "indexof(datum.lab, '*') >= 0"}], "mark": {"type": "text", "fontSize": 8, "color": "#333"},
       "encoding": {"x": {"field": "g", "type": "nominal", "title": null}, "y": {"field": "ly", "type": "quantitative", "title": "C>G fraction (%)"}, "text": {"field": "lab"}}}
     ]}
   ]}
 ]},
{"bounds": "flush", "spacing": 72,
 "resolve": {"scale": {"color": "independent", "fill": "independent", "shape": "independent", "xOffset": "independent"}, "legend": {"color": "independent", "fill": "independent", "shape": "independent"}},
 "hconcat": [
  {"width": 282, "height": 108,
   "title": {"text": "e", "dx": -44, "offset": -12},
   "resolve": {"scale": {"color": "independent", "xOffset": "independent"}},
   "layer": [
    {"data": {"name": "e"}, "mark": {"type": "bar", "filled": false, "strokeWidth": 1.6},
     "encoding": {"x": {"field": "g", "type": "nominal", "title": null, "scale": {"domain": ["a:CH12F3","a:53bp1⁻ᐟ⁻","a:Rif1⁻ᐟ⁻","a:Shld3⁻ᐟ⁻","a:Rev7⁻ᐟ⁻","a:Rev1⁻ᐟ⁻","a:Rev1Δ9/Δ9","a:Rev3l⁻ᐟ⁻","b:CH12F3","b:53bp1⁻ᐟ⁻","b:Rif1⁻ᐟ⁻","b:Shld3⁻ᐟ⁻","b:Rev7⁻ᐟ⁻","b:Rev1⁻ᐟ⁻","b:Rev1Δ9/Δ9","b:Rev3l⁻ᐟ⁻"], "paddingInner": 0.38, "paddingOuter": 0.25},
        "axis": {"labelAngle": -45, "labelFontSize": 10, "labelOverlap": false, "labelPadding": 1, "labelExpr": "replace(replace(datum.label, 'a:', ''), 'b:', '')",
          "labelFontStyle": {"condition": {"test": "indexof(datum.value, 'CH12F3') < 0", "value": "italic"}, "value": "normal"}}},
      "y": {"field": "v", "type": "quantitative", "title": "Cell number (×10⁶)", "scale": {"domain": [0, 20], "nice": false}, "axis": {"values": [0,5,10,15,20], "labelFontSize": 11, "titleFontSize": 11.5}},
      "color": {"field": "g", "type": "nominal", "scale": {"domain": ["a:CH12F3","a:53bp1⁻ᐟ⁻","a:Rif1⁻ᐟ⁻","a:Shld3⁻ᐟ⁻","a:Rev7⁻ᐟ⁻","a:Rev1⁻ᐟ⁻","a:Rev1Δ9/Δ9","a:Rev3l⁻ᐟ⁻","b:CH12F3","b:53bp1⁻ᐟ⁻","b:Rif1⁻ᐟ⁻","b:Shld3⁻ᐟ⁻","b:Rev7⁻ᐟ⁻","b:Rev1⁻ᐟ⁻","b:Rev1Δ9/Δ9","b:Rev3l⁻ᐟ⁻"], "range": ["#8a8a8a","#1f1fff","#6b6bf5","#a3a3f5","#ff2020","#1b8a98","#b21ee8","#ff8c1f","#8a8a8a","#1f1fff","#6b6bf5","#a3a3f5","#ff2020","#1b8a98","#b21ee8","#ff8c1f"]}, "legend": null}}},
    {"data": {"name": "e"}, "mark": {"type": "errorbar", "ticks": {"size": 7}, "thickness": 1.3},
     "encoding": {"x": {"field": "g", "type": "nominal", "title": null}, "y": {"field": "lo", "type": "quantitative", "title": "Cell number (×10⁶)"}, "y2": {"field": "hi"},
      "color": {"field": "g", "type": "nominal", "scale": {"domain": ["a:CH12F3","a:53bp1⁻ᐟ⁻","a:Rif1⁻ᐟ⁻","a:Shld3⁻ᐟ⁻","a:Rev7⁻ᐟ⁻","a:Rev1⁻ᐟ⁻","a:Rev1Δ9/Δ9","a:Rev3l⁻ᐟ⁻","b:CH12F3","b:53bp1⁻ᐟ⁻","b:Rif1⁻ᐟ⁻","b:Shld3⁻ᐟ⁻","b:Rev7⁻ᐟ⁻","b:Rev1⁻ᐟ⁻","b:Rev1Δ9/Δ9","b:Rev3l⁻ᐟ⁻"], "range": ["#8a8a8a","#1f1fff","#6b6bf5","#a3a3f5","#ff2020","#1b8a98","#b21ee8","#ff8c1f","#8a8a8a","#1f1fff","#6b6bf5","#a3a3f5","#ff2020","#1b8a98","#b21ee8","#ff8c1f"]}, "legend": null}}},
    {"data": {"name": "ep"}, "transform": [{"filter": "datum.r != 'k'"}], "mark": {"type": "circle", "size": 24, "opacity": 1},
     "encoding": {"x": {"field": "g", "type": "nominal", "title": null}, "xOffset": {"field": "n", "type": "ordinal"}, "y": {"field": "v", "type": "quantitative", "title": "Cell number (×10⁶)"},
      "color": {"field": "r", "type": "nominal", "scale": {"domain": ["g","y","p","t"], "range": ["#178a17","#cdc600","#8c1aaa","#1a8fb0"]}, "legend": null}}},
    {"data": {"name": "ep"}, "transform": [{"filter": "datum.r == 'k'"}], "mark": {"type": "circle", "size": 24, "opacity": 1, "color": "#000"},
     "encoding": {"x": {"field": "g", "type": "nominal", "title": null}, "xOffset": {"field": "n", "type": "ordinal"}, "y": {"field": "v", "type": "quantitative", "title": "Cell number (×10⁶)"}}},
    {"data": {"name": "es"}, "mark": {"type": "rule", "color": "#333", "strokeWidth": 1.3},
     "encoding": {"x": {"field": "g", "type": "nominal", "title": null}, "y": {"field": "t", "type": "quantitative", "title": "Cell number (×10⁶)"}, "y2": {"field": "b"}}},
    {"data": {"values": [{}]}, "mark": {"type": "rule", "color": "#333", "strokeWidth": 1.3},
     "encoding": {"x": {"datum": "a:CH12F3"}, "x2": {"datum": "a:Rev3l⁻ᐟ⁻"}, "y": {"datum": 20.2}}},
    {"data": {"values": [{}]}, "mark": {"type": "rule", "color": "#333", "strokeWidth": 1.3},
     "encoding": {"x": {"datum": "b:CH12F3"}, "x2": {"datum": "b:Rev3l⁻ᐟ⁻"}, "y": {"datum": 17.4}}},
    {"data": {"values": [{"t": "w.o."}]}, "mark": {"type": "text", "fontSize": 12, "fontStyle": "italic", "align": "right", "dx": -10, "color": "#000"},
     "encoding": {"x": {"datum": "a:Rev7⁻ᐟ⁻"}, "y": {"datum": 22.3}, "text": {"field": "t"}}},
    {"data": {"values": [{"t": "CIT"}]}, "mark": {"type": "text", "fontSize": 12, "align": "left", "dx": -8, "color": "#000"},
     "encoding": {"x": {"datum": "a:Rev7⁻ᐟ⁻"}, "y": {"datum": 22.3}, "text": {"field": "t"}}},
    {"data": {"values": [{"t": "CIT"}]}, "mark": {"type": "text", "fontSize": 12, "align": "center", "dx": -9, "color": "#000"},
     "encoding": {"x": {"datum": "b:Rev7⁻ᐟ⁻"}, "y": {"datum": 19.5}, "text": {"field": "t"}}},
    {"data": {"name": "es"}, "transform": [{"filter": "datum.lab == 'ns'"}], "mark": {"type": "text", "fontSize": 9.5, "fontStyle": "italic", "color": "#333"},
     "encoding": {"x": {"field": "g", "type": "nominal", "title": null}, "y": {"field": "ly", "type": "quantitative", "title": "Cell number (×10⁶)"}, "text": {"field": "lab"}}},
    {"data": {"name": "es"}, "transform": [{"filter": "indexof(datum.lab, '*') >= 0"}], "mark": {"type": "text", "fontSize": 8, "color": "#333"},
     "encoding": {"x": {"field": "g", "type": "nominal", "title": null}, "y": {"field": "ly", "type": "quantitative", "title": "Cell number (×10⁶)"}, "text": {"field": "lab"}}}
   ]},
  {"width": 288, "height": 108,
   "title": {"text": "f", "dx": -39, "offset": -12},
   "resolve": {"scale": {"color": "independent", "xOffset": "independent"}},
   "layer": [
    {"data": {"name": "f"}, "mark": {"type": "bar", "filled": false, "strokeWidth": 1.6},
     "encoding": {"x": {"field": "g", "type": "nominal", "title": null, "scale": {"domain": ["a:CH12F3","a:53bp1⁻ᐟ⁻","a:Rif1⁻ᐟ⁻","a:Shld3⁻ᐟ⁻","a:Rev7⁻ᐟ⁻","a:Rev1⁻ᐟ⁻","a:Rev1Δ9/Δ9","a:Rev3l⁻ᐟ⁻","b:CH12F3","b:53bp1⁻ᐟ⁻","b:Rif1⁻ᐟ⁻","b:Shld3⁻ᐟ⁻","b:Rev7⁻ᐟ⁻","b:Rev1⁻ᐟ⁻","b:Rev1Δ9/Δ9","b:Rev3l⁻ᐟ⁻"], "paddingInner": 0.38, "paddingOuter": 0.25},
        "axis": {"labelAngle": -45, "labelFontSize": 10, "labelOverlap": false, "labelPadding": 1, "labelExpr": "replace(replace(datum.label, 'a:', ''), 'b:', '')",
          "labelFontStyle": {"condition": {"test": "indexof(datum.value, 'CH12F3') < 0", "value": "italic"}, "value": "normal"}}},
      "y": {"field": "v", "type": "quantitative", "title": "Apoptosis (%)", "scale": {"domain": [0, 60], "nice": false}, "axis": {"values": [0,10,20,30,40,50,60], "labelFontSize": 11, "titleFontSize": 11.5}},
      "color": {"field": "g", "type": "nominal", "scale": {"domain": ["a:CH12F3","a:53bp1⁻ᐟ⁻","a:Rif1⁻ᐟ⁻","a:Shld3⁻ᐟ⁻","a:Rev7⁻ᐟ⁻","a:Rev1⁻ᐟ⁻","a:Rev1Δ9/Δ9","a:Rev3l⁻ᐟ⁻","b:CH12F3","b:53bp1⁻ᐟ⁻","b:Rif1⁻ᐟ⁻","b:Shld3⁻ᐟ⁻","b:Rev7⁻ᐟ⁻","b:Rev1⁻ᐟ⁻","b:Rev1Δ9/Δ9","b:Rev3l⁻ᐟ⁻"], "range": ["#8a8a8a","#1f1fff","#6b6bf5","#a3a3f5","#ff2020","#1b8a98","#b21ee8","#ff8c1f","#8a8a8a","#1f1fff","#6b6bf5","#a3a3f5","#ff2020","#1b8a98","#b21ee8","#ff8c1f"]}, "legend": null}}},
    {"data": {"name": "f"}, "mark": {"type": "errorbar", "ticks": {"size": 7}, "thickness": 1.3},
     "encoding": {"x": {"field": "g", "type": "nominal", "title": null}, "y": {"field": "lo", "type": "quantitative", "title": "Apoptosis (%)"}, "y2": {"field": "hi"},
      "color": {"field": "g", "type": "nominal", "scale": {"domain": ["a:CH12F3","a:53bp1⁻ᐟ⁻","a:Rif1⁻ᐟ⁻","a:Shld3⁻ᐟ⁻","a:Rev7⁻ᐟ⁻","a:Rev1⁻ᐟ⁻","a:Rev1Δ9/Δ9","a:Rev3l⁻ᐟ⁻","b:CH12F3","b:53bp1⁻ᐟ⁻","b:Rif1⁻ᐟ⁻","b:Shld3⁻ᐟ⁻","b:Rev7⁻ᐟ⁻","b:Rev1⁻ᐟ⁻","b:Rev1Δ9/Δ9","b:Rev3l⁻ᐟ⁻"], "range": ["#8a8a8a","#1f1fff","#6b6bf5","#a3a3f5","#ff2020","#1b8a98","#b21ee8","#ff8c1f","#8a8a8a","#1f1fff","#6b6bf5","#a3a3f5","#ff2020","#1b8a98","#b21ee8","#ff8c1f"]}, "legend": null}}},
    {"data": {"name": "fp"}, "transform": [{"filter": "datum.r != 'k'"}], "mark": {"type": "circle", "size": 24, "opacity": 1},
     "encoding": {"x": {"field": "g", "type": "nominal", "title": null}, "xOffset": {"field": "n", "type": "ordinal"}, "y": {"field": "v", "type": "quantitative", "title": "Apoptosis (%)"},
      "color": {"field": "r", "type": "nominal", "scale": {"domain": ["g","y","p","t"], "range": ["#178a17","#cdc600","#8c1aaa","#1a8fb0"]}, "legend": null}}},
    {"data": {"name": "fp"}, "transform": [{"filter": "datum.r == 'k'"}], "mark": {"type": "circle", "size": 24, "opacity": 1, "color": "#000"},
     "encoding": {"x": {"field": "g", "type": "nominal", "title": null}, "xOffset": {"field": "n", "type": "ordinal"}, "y": {"field": "v", "type": "quantitative", "title": "Apoptosis (%)"}}},
    {"data": {"name": "fs"}, "mark": {"type": "rule", "color": "#333", "strokeWidth": 1.3},
     "encoding": {"x": {"field": "g", "type": "nominal", "title": null}, "y": {"field": "t", "type": "quantitative", "title": "Apoptosis (%)"}, "y2": {"field": "b"}}},
    {"data": {"values": [{}]}, "mark": {"type": "rule", "color": "#333", "strokeWidth": 1.3},
     "encoding": {"x": {"datum": "a:CH12F3"}, "x2": {"datum": "a:Rev3l⁻ᐟ⁻"}, "y": {"datum": 44.4}}},
    {"data": {"values": [{}]}, "mark": {"type": "rule", "color": "#333", "strokeWidth": 1.3},
     "encoding": {"x": {"datum": "b:CH12F3"}, "x2": {"datum": "b:Rev3l⁻ᐟ⁻"}, "y": {"datum": 59}}},
    {"data": {"values": [{"t": "w.o."}]}, "mark": {"type": "text", "fontSize": 12, "fontStyle": "italic", "align": "right", "dx": -10, "color": "#000"},
     "encoding": {"x": {"datum": "a:Rev7⁻ᐟ⁻"}, "y": {"datum": 49.5}, "text": {"field": "t"}}},
    {"data": {"values": [{"t": "CIT"}]}, "mark": {"type": "text", "fontSize": 12, "align": "left", "dx": -8, "color": "#000"},
     "encoding": {"x": {"datum": "a:Rev7⁻ᐟ⁻"}, "y": {"datum": 49.5}, "text": {"field": "t"}}},
    {"data": {"values": [{"t": "CIT"}]}, "mark": {"type": "text", "fontSize": 12, "align": "center", "dx": -9, "color": "#000"},
     "encoding": {"x": {"datum": "b:Rev7⁻ᐟ⁻"}, "y": {"datum": 64.5}, "text": {"field": "t"}}},
    {"data": {"name": "fs"}, "transform": [{"filter": "datum.lab == 'ns'"}], "mark": {"type": "text", "fontSize": 9.5, "fontStyle": "italic", "color": "#333"},
     "encoding": {"x": {"field": "g", "type": "nominal", "title": null}, "y": {"field": "ly", "type": "quantitative", "title": "Apoptosis (%)"}, "text": {"field": "lab"}}},
    {"data": {"name": "fs"}, "transform": [{"filter": "indexof(datum.lab, '*') >= 0"}], "mark": {"type": "text", "fontSize": 8, "color": "#333"},
     "encoding": {"x": {"field": "g", "type": "nominal", "title": null}, "y": {"field": "ly", "type": "quantitative", "title": "Apoptosis (%)"}, "text": {"field": "lab"}}}
   ]}
 ]}
],
"datasets": {
 "ir": [
  {"g":"CH12F3","x":0,"v":100},{"g":"CH12F3","x":1,"v":101},{"g":"CH12F3","x":2,"v":84},{"g":"CH12F3","x":3,"v":44},
  {"g":"53bp1⁻ᐟ⁻","x":0,"v":100},{"g":"53bp1⁻ᐟ⁻","x":1,"v":73},{"g":"53bp1⁻ᐟ⁻","x":2,"v":50},{"g":"53bp1⁻ᐟ⁻","x":3,"v":31},
  {"g":"Rif1⁻ᐟ⁻","x":0,"v":100},{"g":"Rif1⁻ᐟ⁻","x":1,"v":75},{"g":"Rif1⁻ᐟ⁻","x":2,"v":48},{"g":"Rif1⁻ᐟ⁻","x":3,"v":30},
  {"g":"Shld3⁻ᐟ⁻","x":0,"v":100},{"g":"Shld3⁻ᐟ⁻","x":1,"v":70},{"g":"Shld3⁻ᐟ⁻","x":2,"v":46},{"g":"Shld3⁻ᐟ⁻","x":3,"v":29},
  {"g":"Rev7⁻ᐟ⁻","x":0,"v":100},{"g":"Rev7⁻ᐟ⁻","x":1,"v":62},{"g":"Rev7⁻ᐟ⁻","x":2,"v":35},{"g":"Rev7⁻ᐟ⁻","x":3,"v":18.4},
  {"g":"Rev1⁻ᐟ⁻","x":0,"v":100},{"g":"Rev1⁻ᐟ⁻","x":1,"v":97},{"g":"Rev1⁻ᐟ⁻","x":2,"v":74},{"g":"Rev1⁻ᐟ⁻","x":3,"v":44},
  {"g":"Rev1Δ9/Δ9","x":0,"v":100},{"g":"Rev1Δ9/Δ9","x":1,"v":90},{"g":"Rev1Δ9/Δ9","x":2,"v":68},{"g":"Rev1Δ9/Δ9","x":3,"v":35},
  {"g":"Rev3l⁻ᐟ⁻","x":0,"v":100},{"g":"Rev3l⁻ᐟ⁻","x":1,"v":57},{"g":"Rev3l⁻ᐟ⁻","x":2,"v":30},{"g":"Rev3l⁻ᐟ⁻","x":3,"v":13.5}],
 "irE": [
  {"g":"CH12F3","x":1,"lo":90,"hi":114},{"g":"CH12F3","x":3,"lo":38,"hi":52},
  {"g":"Rev1Δ9/Δ9","x":1,"lo":62,"hi":130},{"g":"Rev1Δ9/Δ9","x":2,"lo":58,"hi":80},
  {"g":"Rev3l⁻ᐟ⁻","x":1,"lo":50,"hi":66},{"g":"Rev3l⁻ᐟ⁻","x":2,"lo":21,"hi":38},{"g":"Rev3l⁻ᐟ⁻","x":3,"lo":10,"hi":17},
  {"g":"Rev7⁻ᐟ⁻","x":3,"lo":15,"hi":22},{"g":"Rev1⁻ᐟ⁻","x":3,"lo":39,"hi":50},{"g":"53bp1⁻ᐟ⁻","x":2,"lo":44,"hi":56}],
 "uvc": [
  {"g":"CH12F3","x":0,"v":100},{"g":"CH12F3","x":5,"v":66},{"g":"CH12F3","x":10,"v":40},{"g":"CH12F3","x":25,"v":11},
  {"g":"53bp1⁻ᐟ⁻","x":0,"v":100},{"g":"53bp1⁻ᐟ⁻","x":5,"v":86},{"g":"53bp1⁻ᐟ⁻","x":10,"v":52},{"g":"53bp1⁻ᐟ⁻","x":25,"v":14},
  {"g":"Rif1⁻ᐟ⁻","x":0,"v":100},{"g":"Rif1⁻ᐟ⁻","x":5,"v":82},{"g":"Rif1⁻ᐟ⁻","x":10,"v":50},{"g":"Rif1⁻ᐟ⁻","x":25,"v":16},
  {"g":"Shld3⁻ᐟ⁻","x":0,"v":100},{"g":"Shld3⁻ᐟ⁻","x":5,"v":78},{"g":"Shld3⁻ᐟ⁻","x":10,"v":47},{"g":"Shld3⁻ᐟ⁻","x":25,"v":7.5},
  {"g":"Rev7⁻ᐟ⁻","x":0,"v":100},{"g":"Rev7⁻ᐟ⁻","x":5,"v":8},{"g":"Rev7⁻ᐟ⁻","x":10,"v":5.5},{"g":"Rev7⁻ᐟ⁻","x":25,"v":1.9},
  {"g":"Rev1⁻ᐟ⁻","x":0,"v":100},{"g":"Rev1⁻ᐟ⁻","x":5,"v":18},{"g":"Rev1⁻ᐟ⁻","x":10,"v":7.2},{"g":"Rev1⁻ᐟ⁻","x":25,"v":1.25},
  {"g":"Rev1Δ9/Δ9","x":0,"v":100},{"g":"Rev1Δ9/Δ9","x":5,"v":72},{"g":"Rev1Δ9/Δ9","x":10,"v":37},{"g":"Rev1Δ9/Δ9","x":25,"v":4.8},
  {"g":"Rev3l⁻ᐟ⁻","x":0,"v":100},{"g":"Rev3l⁻ᐟ⁻","x":5,"v":13},{"g":"Rev3l⁻ᐟ⁻","x":10,"v":8},{"g":"Rev3l⁻ᐟ⁻","x":25,"v":2.7}],
 "uvcE": [
  {"g":"Rev7⁻ᐟ⁻","x":5,"lo":5.6,"hi":11},{"g":"Rev7⁻ᐟ⁻","x":10,"lo":4,"hi":7.5},{"g":"Rev7⁻ᐟ⁻","x":25,"lo":1.5,"hi":2.4},
  {"g":"Rev3l⁻ᐟ⁻","x":10,"lo":5.5,"hi":13},{"g":"Rev3l⁻ᐟ⁻","x":25,"lo":2.2,"hi":3.2},
  {"g":"Rev1⁻ᐟ⁻","x":25,"lo":0.6,"hi":1.7},{"g":"Rev1⁻ᐟ⁻","x":5,"lo":15,"hi":21},
  {"g":"Rev1Δ9/Δ9","x":25,"lo":3.8,"hi":6},{"g":"Shld3⁻ᐟ⁻","x":25,"lo":6,"hi":9.5},{"g":"CH12F3","x":25,"lo":9,"hi":13.5},{"g":"Rif1⁻ᐟ⁻","x":25,"lo":13,"hi":19}],
 "cis": [
  {"g":"CH12F3","x":0,"v":100},{"g":"CH12F3","x":0.5,"v":100},{"g":"CH12F3","x":1,"v":96},{"g":"CH12F3","x":2,"v":62},{"g":"CH12F3","x":4,"v":30},
  {"g":"53bp1⁻ᐟ⁻","x":0,"v":100},{"g":"53bp1⁻ᐟ⁻","x":0.5,"v":88},{"g":"53bp1⁻ᐟ⁻","x":1,"v":80},{"g":"53bp1⁻ᐟ⁻","x":2,"v":50},{"g":"53bp1⁻ᐟ⁻","x":4,"v":25},
  {"g":"Rif1⁻ᐟ⁻","x":0,"v":100},{"g":"Rif1⁻ᐟ⁻","x":0.5,"v":92},{"g":"Rif1⁻ᐟ⁻","x":1,"v":85},{"g":"Rif1⁻ᐟ⁻","x":2,"v":55},{"g":"Rif1⁻ᐟ⁻","x":4,"v":26},
  {"g":"Shld3⁻ᐟ⁻","x":0,"v":100},{"g":"Shld3⁻ᐟ⁻","x":0.5,"v":112},{"g":"Shld3⁻ᐟ⁻","x":1,"v":118},{"g":"Shld3⁻ᐟ⁻","x":2,"v":58},{"g":"Shld3⁻ᐟ⁻","x":4,"v":28},
  {"g":"Rev7⁻ᐟ⁻","x":0,"v":100},{"g":"Rev7⁻ᐟ⁻","x":0.5,"v":32},{"g":"Rev7⁻ᐟ⁻","x":1,"v":23},{"g":"Rev7⁻ᐟ⁻","x":2,"v":18},{"g":"Rev7⁻ᐟ⁻","x":4,"v":12},
  {"g":"Rev1⁻ᐟ⁻","x":0,"v":100},{"g":"Rev1⁻ᐟ⁻","x":0.5,"v":60},{"g":"Rev1⁻ᐟ⁻","x":1,"v":37},{"g":"Rev1⁻ᐟ⁻","x":2,"v":24},{"g":"Rev1⁻ᐟ⁻","x":4,"v":15.5},
  {"g":"Rev1Δ9/Δ9","x":0,"v":100},{"g":"Rev1Δ9/Δ9","x":0.5,"v":95},{"g":"Rev1Δ9/Δ9","x":1,"v":82},{"g":"Rev1Δ9/Δ9","x":2,"v":53},{"g":"Rev1Δ9/Δ9","x":4,"v":26},
  {"g":"Rev3l⁻ᐟ⁻","x":0,"v":100},{"g":"Rev3l⁻ᐟ⁻","x":0.5,"v":31},{"g":"Rev3l⁻ᐟ⁻","x":1,"v":29},{"g":"Rev3l⁻ᐟ⁻","x":2,"v":24},{"g":"Rev3l⁻ᐟ⁻","x":4,"v":16}],
 "cisE": [
  {"g":"Shld3⁻ᐟ⁻","x":0.5,"lo":98,"hi":126},{"g":"Shld3⁻ᐟ⁻","x":1,"lo":102,"hi":138},{"g":"CH12F3","x":1,"lo":85,"hi":105},
  {"g":"Rev1⁻ᐟ⁻","x":1,"lo":32,"hi":44},{"g":"Rev1⁻ᐟ⁻","x":2,"lo":21,"hi":28},{"g":"Rev1⁻ᐟ⁻","x":4,"lo":14,"hi":17},
  {"g":"CH12F3","x":4,"lo":26,"hi":34},{"g":"CH12F3","x":2,"lo":56,"hi":68},{"g":"Rev3l⁻ᐟ⁻","x":4,"lo":15,"hi":17}],
 "a1": [
  {"g":"CH12F3","v":2.35,"lo":2.22,"hi":2.48},{"g":"53bp1⁻ᐟ⁻","v":1.65,"lo":1.6,"hi":1.7},{"g":"Rif1⁻ᐟ⁻","v":1.55,"lo":1.49,"hi":1.61},{"g":"Shld3⁻ᐟ⁻","v":1.6,"lo":1.53,"hi":1.67},
  {"g":"Rev7⁻ᐟ⁻","v":1.32,"lo":1.15,"hi":1.5},{"g":"Rev1⁻ᐟ⁻","v":2.3,"lo":2.27,"hi":2.33},{"g":"Rev1Δ9/Δ9","v":2.15,"lo":1.7,"hi":2.6},{"g":"Rev3l⁻ᐟ⁻","v":1.25,"lo":1.14,"hi":1.36}],
 "a1p": [
  {"g":"CH12F3","n":1,"v":2.6},{"g":"CH12F3","n":2,"v":2.45},{"g":"CH12F3","n":3,"v":2.5},{"g":"CH12F3","n":4,"v":2.35},{"g":"CH12F3","n":5,"v":2.3},{"g":"CH12F3","n":6,"v":2.4},{"g":"CH12F3","n":7,"v":2.25},{"g":"CH12F3","n":8,"v":2.2},{"g":"CH12F3","n":9,"v":2.1},{"g":"CH12F3","n":10,"v":2.3},
  {"g":"53bp1⁻ᐟ⁻","n":2,"v":1.7},{"g":"53bp1⁻ᐟ⁻","n":3,"v":1.62},{"g":"53bp1⁻ᐟ⁻","n":5,"v":1.68},{"g":"53bp1⁻ᐟ⁻","n":6,"v":1.6},{"g":"53bp1⁻ᐟ⁻","n":8,"v":1.65},{"g":"53bp1⁻ᐟ⁻","n":9,"v":1.72},
  {"g":"Rif1⁻ᐟ⁻","n":2,"v":1.6},{"g":"Rif1⁻ᐟ⁻","n":3,"v":1.5},{"g":"Rif1⁻ᐟ⁻","n":5,"v":1.55},{"g":"Rif1⁻ᐟ⁻","n":6,"v":1.45},{"g":"Rif1⁻ᐟ⁻","n":8,"v":1.62},{"g":"Rif1⁻ᐟ⁻","n":9,"v":1.52},
  {"g":"Shld3⁻ᐟ⁻","n":2,"v":1.7},{"g":"Shld3⁻ᐟ⁻","n":4,"v":1.6},{"g":"Shld3⁻ᐟ⁻","n":5,"v":1.55},{"g":"Shld3⁻ᐟ⁻","n":7,"v":1.65},{"g":"Shld3⁻ᐟ⁻","n":9,"v":1.5},
  {"g":"Rev7⁻ᐟ⁻","n":2,"v":1.5},{"g":"Rev7⁻ᐟ⁻","n":3,"v":1.4},{"g":"Rev7⁻ᐟ⁻","n":5,"v":1.3},{"g":"Rev7⁻ᐟ⁻","n":6,"v":1.2},{"g":"Rev7⁻ᐟ⁻","n":8,"v":1.1},{"g":"Rev7⁻ᐟ⁻","n":9,"v":1.35},
  {"g":"Rev1⁻ᐟ⁻","n":3,"v":2.3},{"g":"Rev1⁻ᐟ⁻","n":5,"v":2.32},{"g":"Rev1⁻ᐟ⁻","n":8,"v":2.28},
  {"g":"Rev1Δ9/Δ9","n":3,"v":2.6},{"g":"Rev1Δ9/Δ9","n":5,"v":2.0},{"g":"Rev1Δ9/Δ9","n":8,"v":1.8},
  {"g":"Rev3l⁻ᐟ⁻","n":2,"v":1.35},{"g":"Rev3l⁻ᐟ⁻","n":3,"v":1.3},{"g":"Rev3l⁻ᐟ⁻","n":5,"v":1.2},{"g":"Rev3l⁻ᐟ⁻","n":6,"v":1.15},{"g":"Rev3l⁻ᐟ⁻","n":8,"v":1.25},{"g":"Rev3l⁻ᐟ⁻","n":9,"v":1.1}],
 "a1s": [
  {"g":"CH12F3","t":3.95,"b":2.62,"lab":"","ly":0},{"g":"53bp1⁻ᐟ⁻","t":3.95,"b":2.55,"lab":"***","ly":2.35},{"g":"Rif1⁻ᐟ⁻","t":3.95,"b":2.55,"lab":"****","ly":2.35},{"g":"Shld3⁻ᐟ⁻","t":3.95,"b":2.55,"lab":"****","ly":2.35},
  {"g":"Rev7⁻ᐟ⁻","t":3.95,"b":2.55,"lab":"****","ly":2.35},{"g":"Rev1⁻ᐟ⁻","t":3.95,"b":3.3,"lab":"ns","ly":3.05},{"g":"Rev1Δ9/Δ9","t":3.95,"b":3.7,"lab":"ns","ly":3.45},{"g":"Rev3l⁻ᐟ⁻","t":3.95,"b":2.8,"lab":"****","ly":2.3}],
 "a2": [
  {"g":"CH12F3","v":2.2,"lo":1.95,"hi":2.45},{"g":"53bp1⁻ᐟ⁻","v":2.6,"lo":2.5,"hi":2.7},{"g":"Rif1⁻ᐟ⁻","v":2.33,"lo":2.2,"hi":2.45},{"g":"Shld3⁻ᐟ⁻","v":2.45,"lo":2.38,"hi":2.52},
  {"g":"Rev7⁻ᐟ⁻","v":0.75,"lo":0.7,"hi":0.82},{"g":"Rev1⁻ᐟ⁻","v":0.87,"lo":0.83,"hi":0.9},{"g":"Rev1Δ9/Δ9","v":2.07,"lo":2.05,"hi":2.09},{"g":"Rev3l⁻ᐟ⁻","v":0.84,"lo":0.7,"hi":0.98}],
 "a2p": [
  {"g":"CH12F3","n":2,"v":2.5},{"g":"CH12F3","n":4,"v":2.35},{"g":"CH12F3","n":6,"v":2.2},{"g":"CH12F3","n":8,"v":2.0},{"g":"CH12F3","n":9,"v":1.5},
  {"g":"53bp1⁻ᐟ⁻","n":3,"v":2.62},{"g":"53bp1⁻ᐟ⁻","n":5,"v":2.55},{"g":"53bp1⁻ᐟ⁻","n":8,"v":2.58},
  {"g":"Rif1⁻ᐟ⁻","n":2,"v":2.4},{"g":"Rif1⁻ᐟ⁻","n":4,"v":2.3},{"g":"Rif1⁻ᐟ⁻","n":6,"v":2.25},{"g":"Rif1⁻ᐟ⁻","n":8,"v":2.35},
  {"g":"Shld3⁻ᐟ⁻","n":3,"v":2.48},{"g":"Shld3⁻ᐟ⁻","n":5,"v":2.42},{"g":"Shld3⁻ᐟ⁻","n":8,"v":2.45},
  {"g":"Rev7⁻ᐟ⁻","n":2,"v":0.8},{"g":"Rev7⁻ᐟ⁻","n":4,"v":0.75},{"g":"Rev7⁻ᐟ⁻","n":5,"v":0.7},{"g":"Rev7⁻ᐟ⁻","n":7,"v":0.72},{"g":"Rev7⁻ᐟ⁻","n":9,"v":0.78},
  {"g":"Rev1⁻ᐟ⁻","n":3,"v":0.88},{"g":"Rev1⁻ᐟ⁻","n":5,"v":0.85},{"g":"Rev1⁻ᐟ⁻","n":8,"v":0.87},
  {"g":"Rev1Δ9/Δ9","n":3,"v":2.07},{"g":"Rev1Δ9/Δ9","n":5,"v":2.06},{"g":"Rev1Δ9/Δ9","n":8,"v":2.08},
  {"g":"Rev3l⁻ᐟ⁻","n":2,"v":1.0},{"g":"Rev3l⁻ᐟ⁻","n":3,"v":0.9},{"g":"Rev3l⁻ᐟ⁻","n":5,"v":0.85},{"g":"Rev3l⁻ᐟ⁻","n":6,"v":0.8},{"g":"Rev3l⁻ᐟ⁻","n":8,"v":0.7},{"g":"Rev3l⁻ᐟ⁻","n":9,"v":0.65}],
 "a2s": [
  {"g":"CH12F3","t":3.0,"b":2.75,"lab":"","ly":0},{"g":"53bp1⁻ᐟ⁻","t":3.0,"b":2.92,"lab":"ns","ly":2.8},{"g":"Rif1⁻ᐟ⁻","t":3.0,"b":2.93,"lab":"ns","ly":2.73},{"g":"Shld3⁻ᐟ⁻","t":3.0,"b":2.93,"lab":"ns","ly":2.73},
  {"g":"Rev7⁻ᐟ⁻","t":3.0,"b":1.6,"lab":"****","ly":1.4},{"g":"Rev1⁻ᐟ⁻","t":3.0,"b":1.6,"lab":"****","ly":1.4},{"g":"Rev1Δ9/Δ9","t":3.0,"b":2.5,"lab":"ns","ly":2.33},{"g":"Rev3l⁻ᐟ⁻","t":3.0,"b":1.6,"lab":"****","ly":1.4}],
 "a3": [
  {"g":"CH12F3","v":2.15,"lo":2.05,"hi":2.25},{"g":"53bp1⁻ᐟ⁻","v":1.95,"lo":1.93,"hi":1.97},{"g":"Rif1⁻ᐟ⁻","v":2.03,"lo":2.0,"hi":2.06},{"g":"Shld3⁻ᐟ⁻","v":2.45,"lo":2.42,"hi":2.5},
  {"g":"Rev7⁻ᐟ⁻","v":0.67,"lo":0.66,"hi":0.68},{"g":"Rev1⁻ᐟ⁻","v":1.04,"lo":0.95,"hi":1.15},{"g":"Rev1Δ9/Δ9","v":1.96,"lo":1.94,"hi":1.98},{"g":"Rev3l⁻ᐟ⁻","v":0.81,"lo":0.79,"hi":0.83}],
 "a3p": [
  {"g":"CH12F3","n":1,"v":2.4},{"g":"CH12F3","n":2,"v":2.3},{"g":"CH12F3","n":3,"v":2.2},{"g":"CH12F3","n":5,"v":2.15},{"g":"CH12F3","n":6,"v":2.1},{"g":"CH12F3","n":7,"v":2.0},{"g":"CH12F3","n":8,"v":1.9},{"g":"CH12F3","n":9,"v":2.25},
  {"g":"53bp1⁻ᐟ⁻","n":3,"v":1.96},{"g":"53bp1⁻ᐟ⁻","n":5,"v":1.94},{"g":"53bp1⁻ᐟ⁻","n":8,"v":1.95},
  {"g":"Rif1⁻ᐟ⁻","n":3,"v":2.05},{"g":"Rif1⁻ᐟ⁻","n":5,"v":2.0},{"g":"Rif1⁻ᐟ⁻","n":8,"v":2.02},
  {"g":"Shld3⁻ᐟ⁻","n":3,"v":2.48},{"g":"Shld3⁻ᐟ⁻","n":5,"v":2.44},{"g":"Shld3⁻ᐟ⁻","n":8,"v":2.46},
  {"g":"Rev7⁻ᐟ⁻","n":3,"v":0.67},{"g":"Rev7⁻ᐟ⁻","n":5,"v":0.67},{"g":"Rev7⁻ᐟ⁻","n":8,"v":0.67},
  {"g":"Rev1⁻ᐟ⁻","n":2,"v":1.25},{"g":"Rev1⁻ᐟ⁻","n":3,"v":1.15},{"g":"Rev1⁻ᐟ⁻","n":5,"v":1.05},{"g":"Rev1⁻ᐟ⁻","n":6,"v":0.95},{"g":"Rev1⁻ᐟ⁻","n":8,"v":0.9},{"g":"Rev1⁻ᐟ⁻","n":9,"v":1.0},
  {"g":"Rev1Δ9/Δ9","n":3,"v":1.96},{"g":"Rev1Δ9/Δ9","n":5,"v":1.95},{"g":"Rev1Δ9/Δ9","n":8,"v":1.97},
  {"g":"Rev3l⁻ᐟ⁻","n":3,"v":0.81},{"g":"Rev3l⁻ᐟ⁻","n":5,"v":0.8},{"g":"Rev3l⁻ᐟ⁻","n":8,"v":0.82}],
 "a3s": [
  {"g":"CH12F3","t":3.0,"b":2.56,"lab":"","ly":0},{"g":"53bp1⁻ᐟ⁻","t":3.0,"b":2.68,"lab":"ns","ly":2.45},{"g":"Rif1⁻ᐟ⁻","t":3.0,"b":2.62,"lab":"n","ly":2.45},{"g":"Shld3⁻ᐟ⁻","t":3.0,"b":2.89,"lab":"ns","ly":2.72},
  {"g":"Rev7⁻ᐟ⁻","t":3.0,"b":1.78,"lab":"****","ly":1.6},{"g":"Rev1⁻ᐟ⁻","t":3.0,"b":1.78,"lab":"****","ly":1.6},{"g":"Rev1Δ9/Δ9","t":3.0,"b":2.72,"lab":"ns","ly":2.48},{"g":"Rev3l⁻ᐟ⁻","t":3.0,"b":1.78,"lab":"****","ly":1.6}],
 "b": [
  {"g":"CH12F3","v":45,"lo":39.5,"hi":50.2},{"g":"53bp1⁻ᐟ⁻","v":5,"lo":2,"hi":8},{"g":"Rif1⁻ᐟ⁻","v":9.5,"lo":8,"hi":11},{"g":"Shld3⁻ᐟ⁻","v":7.6,"lo":4.5,"hi":11.2},
  {"g":"Rev7⁻ᐟ⁻","v":7.6,"lo":4.3,"hi":11},{"g":"R7:53bp1⁻ᐟ⁻","v":4.5,"lo":3.8,"hi":5.5},{"g":"R7:Rif1⁻ᐟ⁻","v":7.5,"lo":4,"hi":10.8},{"g":"R7:Shld3⁻ᐟ⁻","v":3.6,"lo":1,"hi":6.2},
  {"g":"Rev1⁻ᐟ⁻","v":50,"lo":38.6,"hi":63},{"g":"Rev1Δ9/Δ9","v":45.6,"lo":40,"hi":51},{"g":"Rev3l⁻ᐟ⁻","v":22,"lo":18,"hi":27}],
 "bp": [
  {"g":"CH12F3","r":"k","n":1,"v":55},{"g":"CH12F3","r":"k","n":2,"v":45},{"g":"CH12F3","r":"k","n":3,"v":43},{"g":"CH12F3","r":"k","n":4,"v":42},{"g":"CH12F3","r":"k","n":5,"v":44},
  {"g":"53bp1⁻ᐟ⁻","r":"y","n":1,"v":8.2},{"g":"53bp1⁻ᐟ⁻","r":"g","n":2,"v":4},{"g":"53bp1⁻ᐟ⁻","r":"p","n":3,"v":2},{"g":"53bp1⁻ᐟ⁻","r":"t","n":4,"v":5},
  {"g":"Rif1⁻ᐟ⁻","r":"y","n":1,"v":10.5},{"g":"Rif1⁻ᐟ⁻","r":"g","n":2,"v":8.2},{"g":"Rif1⁻ᐟ⁻","r":"p","n":4,"v":10},
  {"g":"Shld3⁻ᐟ⁻","r":"g","n":1,"v":11.4},{"g":"Shld3⁻ᐟ⁻","r":"y","n":4,"v":9.4},{"g":"Shld3⁻ᐟ⁻","r":"p","n":2,"v":4.5},
  {"g":"Rev7⁻ᐟ⁻","r":"y","n":1,"v":11},{"g":"Rev7⁻ᐟ⁻","r":"g","n":4,"v":10.5},{"g":"Rev7⁻ᐟ⁻","r":"t","n":3,"v":7},{"g":"Rev7⁻ᐟ⁻","r":"p","n":2,"v":4.3},
  {"g":"R7:53bp1⁻ᐟ⁻","r":"g","n":1,"v":6},{"g":"R7:53bp1⁻ᐟ⁻","r":"y","n":2,"v":4},{"g":"R7:53bp1⁻ᐟ⁻","r":"p","n":4,"v":4.5},
  {"g":"R7:Rif1⁻ᐟ⁻","r":"g","n":1,"v":10},{"g":"R7:Rif1⁻ᐟ⁻","r":"p","n":4,"v":10},{"g":"R7:Rif1⁻ᐟ⁻","r":"t","n":3,"v":9.8},{"g":"R7:Rif1⁻ᐟ⁻","r":"y","n":2,"v":3.5},
  {"g":"R7:Shld3⁻ᐟ⁻","r":"p","n":1,"v":6.6},{"g":"R7:Shld3⁻ᐟ⁻","r":"g","n":4,"v":3.3},{"g":"R7:Shld3⁻ᐟ⁻","r":"y","n":3,"v":1.5},
  {"g":"Rev1⁻ᐟ⁻","r":"g","n":1,"v":60},{"g":"Rev1⁻ᐟ⁻","r":"y","n":4,"v":60.5},{"g":"Rev1⁻ᐟ⁻","r":"t","n":3,"v":49},{"g":"Rev1⁻ᐟ⁻","r":"p","n":2,"v":34},
  {"g":"Rev1Δ9/Δ9","r":"t","n":3,"v":53},{"g":"Rev1Δ9/Δ9","r":"g","n":1,"v":45.6},{"g":"Rev1Δ9/Δ9","r":"y","n":4,"v":43.5},{"g":"Rev1Δ9/Δ9","r":"p","n":2,"v":42},
  {"g":"Rev3l⁻ᐟ⁻","r":"g","n":1,"v":27},{"g":"Rev3l⁻ᐟ⁻","r":"p","n":4,"v":23},{"g":"Rev3l⁻ᐟ⁻","r":"y","n":3,"v":18}],
 "bs": [
  {"g":"CH12F3","t":77,"b":56,"lab":"","ly":0},{"g":"53bp1⁻ᐟ⁻","t":77,"b":25,"lab":"****","ly":21.5},{"g":"Rif1⁻ᐟ⁻","t":77,"b":25,"lab":"****","ly":21.5},{"g":"Shld3⁻ᐟ⁻","t":77,"b":25,"lab":"****","ly":21.5},
  {"g":"Rev7⁻ᐟ⁻","t":77,"b":25,"lab":"****","ly":21.5},{"g":"R7:53bp1⁻ᐟ⁻","t":77,"b":25,"lab":"****","ly":21.5},{"g":"R7:Rif1⁻ᐟ⁻","t":77,"b":25,"lab":"****","ly":21.5},{"g":"R7:Shld3⁻ᐟ⁻","t":77,"b":25,"lab":"****","ly":21.5},
  {"g":"Rev1⁻ᐟ⁻","t":77,"b":73.5,"lab":"ns","ly":70},{"g":"Rev1Δ9/Δ9","t":77,"b":72,"lab":"ns","ly":67.5},{"g":"Rev3l⁻ᐟ⁻","t":77,"b":44,"lab":"****","ly":40}],
 "c": [
  {"g":"CH12F3","v":1.2,"lo":0.9,"hi":1.5},{"g":"53bp1⁻ᐟ⁻","v":15.3,"lo":12,"hi":18.5},{"g":"Rif1⁻ᐟ⁻","v":12.3,"lo":9.3,"hi":15.5},{"g":"Shld3⁻ᐟ⁻","v":9.7,"lo":9.4,"hi":10.1},
  {"g":"Rev7⁻ᐟ⁻","v":8,"lo":5.2,"hi":10.5},{"g":"R7:53bp1⁻ᐟ⁻","v":15.1,"lo":9,"hi":21.3},{"g":"R7:Rif1⁻ᐟ⁻","v":10.6,"lo":7.3,"hi":14.3},{"g":"R7:Shld3⁻ᐟ⁻","v":6.7,"lo":3.5,"hi":10},
  {"g":"Rev1⁻ᐟ⁻","v":1.7,"lo":1.0,"hi":2.7},{"g":"Rev1Δ9/Δ9","v":0.3,"lo":0.1,"hi":0.6},{"g":"Rev3l⁻ᐟ⁻","v":2.0,"lo":1.6,"hi":2.6}],
 "cp": [
  {"g":"CH12F3","r":"k","n":1,"v":1.5},{"g":"CH12F3","r":"k","n":2,"v":1.3},{"g":"CH12F3","r":"k","n":3,"v":1.1},{"g":"CH12F3","r":"k","n":4,"v":1.0},{"g":"CH12F3","r":"k","n":5,"v":1.4},
  {"g":"53bp1⁻ᐟ⁻","r":"y","n":4,"v":17.7},{"g":"53bp1⁻ᐟ⁻","r":"p","n":1,"v":16.8},{"g":"53bp1⁻ᐟ⁻","r":"g","n":3,"v":14.9},{"g":"53bp1⁻ᐟ⁻","r":"t","n":2,"v":11},
  {"g":"Rif1⁻ᐟ⁻","r":"p","n":2,"v":15.5},{"g":"Rif1⁻ᐟ⁻","r":"g","n":3,"v":12.2},{"g":"Rif1⁻ᐟ⁻","r":"y","n":1,"v":9.3},
  {"g":"Shld3⁻ᐟ⁻","r":"y","n":1,"v":10.3},{"g":"Shld3⁻ᐟ⁻","r":"p","n":2,"v":9.7},{"g":"Shld3⁻ᐟ⁻","r":"g","n":4,"v":9.6},
  {"g":"Rev7⁻ᐟ⁻","r":"y","n":4,"v":11.2},{"g":"Rev7⁻ᐟ⁻","r":"g","n":1,"v":9.9},{"g":"Rev7⁻ᐟ⁻","r":"p","n":2,"v":8},{"g":"Rev7⁻ᐟ⁻","r":"t","n":3,"v":5.8},
  {"g":"R7:53bp1⁻ᐟ⁻","r":"y","n":2,"v":22},{"g":"R7:53bp1⁻ᐟ⁻","r":"g","n":4,"v":12.3},{"g":"R7:53bp1⁻ᐟ⁻","r":"p","n":1,"v":11.2},
  {"g":"R7:Rif1⁻ᐟ⁻","r":"g","n":3,"v":14.4},{"g":"R7:Rif1⁻ᐟ⁻","r":"y","n":2,"v":10.3},{"g":"R7:Rif1⁻ᐟ⁻","r":"p","n":1,"v":7.3},
  {"g":"R7:Shld3⁻ᐟ⁻","r":"y","n":2,"v":9.9},{"g":"R7:Shld3⁻ᐟ⁻","r":"p","n":3,"v":7.5},{"g":"R7:Shld3⁻ᐟ⁻","r":"g","n":2,"v":3.2},
  {"g":"Rev1⁻ᐟ⁻","r":"t","n":2,"v":3.2},{"g":"Rev1⁻ᐟ⁻","r":"g","n":1,"v":1.8},{"g":"Rev1⁻ᐟ⁻","r":"p","n":4,"v":1.6},{"g":"Rev1⁻ᐟ⁻","r":"y","n":3,"v":1.0},
  {"g":"Rev1Δ9/Δ9","r":"p","n":1,"v":1.0},{"g":"Rev1Δ9/Δ9","r":"g","n":4,"v":0.6},{"g":"Rev1Δ9/Δ9","r":"y","n":2,"v":0.4},
  {"g":"Rev3l⁻ᐟ⁻","r":"g","n":1,"v":2.7},{"g":"Rev3l⁻ᐟ⁻","r":"p","n":4,"v":2.0},{"g":"Rev3l⁻ᐟ⁻","r":"y","n":3,"v":1.7}],
 "cs": [
  {"g":"CH12F3","t":25,"b":2.5,"lab":"","ly":0},{"g":"53bp1⁻ᐟ⁻","t":25,"b":22.2,"lab":"****","ly":20.7},{"g":"Rif1⁻ᐟ⁻","t":25,"b":22,"lab":"****","ly":20.7},{"g":"Shld3⁻ᐟ⁻","t":25,"b":22,"lab":"***","ly":20.7},
  {"g":"Rev7⁻ᐟ⁻","t":25,"b":22,"lab":"***","ly":20.7},{"g":"R7:53bp1⁻ᐟ⁻","t":25,"b":24.3,"lab":"****","ly":23.3},{"g":"R7:Rif1⁻ᐟ⁻","t":25,"b":22,"lab":"****","ly":20.7},{"g":"R7:Shld3⁻ᐟ⁻","t":25,"b":22,"lab":"*","ly":20.7},
  {"g":"Rev1⁻ᐟ⁻","t":25,"b":10,"lab":"ns","ly":8.2},{"g":"Rev1Δ9/Δ9","t":25,"b":10,"lab":"ns","ly":8.2},{"g":"Rev3l⁻ᐟ⁻","t":25,"b":10,"lab":"ns","ly":8.2}],
 "d": [
  {"g":"CH12F3","v":16.1,"lo":14.5,"hi":17.8},{"g":"53bp1⁻ᐟ⁻","v":12,"lo":10.8,"hi":13.1},{"g":"Rif1⁻ᐟ⁻","v":8.9,"lo":7.9,"hi":10},{"g":"Shld3⁻ᐟ⁻","v":9.7,"lo":9.2,"hi":10.4},
  {"g":"Rev7⁻ᐟ⁻","v":3.1,"lo":2.6,"hi":3.6},{"g":"R7:53bp1⁻ᐟ⁻","v":1.7,"lo":1.4,"hi":1.9},{"g":"R7:Rif1⁻ᐟ⁻","v":3.1,"lo":2.0,"hi":4.4},{"g":"R7:Shld3⁻ᐟ⁻","v":2.6,"lo":2.0,"hi":3.4},
  {"g":"Rev1⁻ᐟ⁻","v":3.6,"lo":3.0,"hi":4.3},{"g":"Rev1Δ9/Δ9","v":1.9,"lo":1.0,"hi":3.0},{"g":"Rev3l⁻ᐟ⁻","v":3.1,"lo":1.4,"hi":5.0}],
 "dp": [
  {"g":"CH12F3","r":"k","n":1,"v":19.5},{"g":"CH12F3","r":"k","n":2,"v":16.8},{"g":"CH12F3","r":"k","n":3,"v":16.5},{"g":"CH12F3","r":"k","n":4,"v":16.2},{"g":"CH12F3","r":"k","n":5,"v":15.8},{"g":"CH12F3","r":"k","n":6,"v":15.5},{"g":"CH12F3","r":"k","n":7,"v":15},{"g":"CH12F3","r":"k","n":8,"v":14.5},{"g":"CH12F3","r":"k","n":9,"v":14.2},
  {"g":"53bp1⁻ᐟ⁻","r":"ol","n":3,"v":12.8},{"g":"53bp1⁻ᐟ⁻","r":"tn","n":1,"v":12.9},{"g":"53bp1⁻ᐟ⁻","r":"lt","n":2,"v":10.8},
  {"g":"Rif1⁻ᐟ⁻","r":"ol","n":1,"v":9.9},{"g":"Rif1⁻ᐟ⁻","r":"tn","n":3,"v":9.5},{"g":"Rif1⁻ᐟ⁻","r":"lt","n":2,"v":7.9},
  {"g":"Shld3⁻ᐟ⁻","r":"tn","n":2,"v":10.4},{"g":"Shld3⁻ᐟ⁻","r":"ol","n":3,"v":9.9},{"g":"Shld3⁻ᐟ⁻","r":"lt","n":1,"v":9.2},
  {"g":"Rev7⁻ᐟ⁻","r":"ol","n":1,"v":3.3},{"g":"Rev7⁻ᐟ⁻","r":"tn","n":3,"v":3.0},{"g":"Rev7⁻ᐟ⁻","r":"lt","n":2,"v":3.2},
  {"g":"R7:53bp1⁻ᐟ⁻","r":"tn","n":1,"v":1.8},{"g":"R7:53bp1⁻ᐟ⁻","r":"ol","n":2,"v":1.5},{"g":"R7:53bp1⁻ᐟ⁻","r":"lt","n":3,"v":1.8},
  {"g":"R7:Rif1⁻ᐟ⁻","r":"ol","n":2,"v":4.4},{"g":"R7:Rif1⁻ᐟ⁻","r":"tn","n":1,"v":2.1},{"g":"R7:Rif1⁻ᐟ⁻","r":"lt","n":3,"v":3.0},
  {"g":"R7:Shld3⁻ᐟ⁻","r":"ol","n":2,"v":3.4},{"g":"R7:Shld3⁻ᐟ⁻","r":"tn","n":3,"v":2.6},{"g":"R7:Shld3⁻ᐟ⁻","r":"lt","n":1,"v":2.4},
  {"g":"Rev1⁻ᐟ⁻","r":"y","n":1,"v":4.4},{"g":"Rev1⁻ᐟ⁻","r":"p","n":2,"v":3.8},{"g":"Rev1⁻ᐟ⁻","r":"t","n":3,"v":3.4},{"g":"Rev1⁻ᐟ⁻","r":"g","n":4,"v":2.5},
  {"g":"Rev1Δ9/Δ9","r":"t","n":2,"v":3.6},{"g":"Rev1Δ9/Δ9","r":"g","n":4,"v":3.2},{"g":"Rev1Δ9/Δ9","r":"p","n":1,"v":1.1},{"g":"Rev1Δ9/Δ9","r":"y","n":3,"v":1.0},
  {"g":"Rev3l⁻ᐟ⁻","r":"p","n":2,"v":5.5},{"g":"Rev3l⁻ᐟ⁻","r":"y","n":1,"v":1.7},{"g":"Rev3l⁻ᐟ⁻","r":"g","n":4,"v":2.0}],
 "ds": [
  {"g":"CH12F3","t":21.7,"b":19.6,"lab":"","ly":0},
  {"g":"53bp1⁻ᐟ⁻","t":21.7,"b":20.6,"lab":"****","ly":19.8},{"g":"Rif1⁻ᐟ⁻","t":21.7,"b":20.6,"lab":"****","ly":19.8},{"g":"Shld3⁻ᐟ⁻","t":21.7,"b":20.6,"lab":"****","ly":19.8},
  {"g":"Rev7⁻ᐟ⁻","t":21.7,"b":20.6,"lab":"****","ly":19.8},{"g":"R7:53bp1⁻ᐟ⁻","t":21.7,"b":20.6,"lab":"****","ly":19.8},{"g":"R7:Rif1⁻ᐟ⁻","t":21.7,"b":20.6,"lab":"****","ly":19.8},
  {"g":"R7:Shld3⁻ᐟ⁻","t":21.7,"b":20.6,"lab":"****","ly":19.8},{"g":"Rev1⁻ᐟ⁻","t":21.7,"b":20.6,"lab":"****","ly":19.8},{"g":"Rev1Δ9/Δ9","t":21.7,"b":20.6,"lab":"****","ly":19.8},{"g":"Rev3l⁻ᐟ⁻","t":21.7,"b":20.6,"lab":"****","ly":19.8},
  {"g":"53bp1⁻ᐟ⁻","t":17,"b":15,"lab":"****","ly":14},{"g":"Rif1⁻ᐟ⁻","t":17,"b":15,"lab":"****","ly":14},{"g":"Shld3⁻ᐟ⁻","t":17,"b":15,"lab":"****","ly":14},
  {"g":"Rev7⁻ᐟ⁻","t":17,"b":4.3,"lab":"","ly":0},{"g":"R7:53bp1⁻ᐟ⁻","t":17,"b":7.9,"lab":"ns","ly":6.8},{"g":"R7:Rif1⁻ᐟ⁻","t":17,"b":7.9,"lab":"ns","ly":6.8},
  {"g":"R7:Shld3⁻ᐟ⁻","t":17,"b":7.9,"lab":"ns","ly":6.8},{"g":"Rev1⁻ᐟ⁻","t":17,"b":7.9,"lab":"ns","ly":6.8},{"g":"Rev1Δ9/Δ9","t":17,"b":7.9,"lab":"ns","ly":6.8},{"g":"Rev3l⁻ᐟ⁻","t":17,"b":7.9,"lab":"ns","ly":6.8}],
 "e": [
  {"g":"a:CH12F3","v":9.5,"lo":8.2,"hi":11},{"g":"a:53bp1⁻ᐟ⁻","v":11.5,"lo":11,"hi":12.2},{"g":"a:Rif1⁻ᐟ⁻","v":10.3,"lo":8.2,"hi":12.2},{"g":"a:Shld3⁻ᐟ⁻","v":11.3,"lo":6.8,"hi":16},
  {"g":"a:Rev7⁻ᐟ⁻","v":8.8,"lo":8.5,"hi":9.2},{"g":"a:Rev1⁻ᐟ⁻","v":7.7,"lo":7.2,"hi":8.4},{"g":"a:Rev1Δ9/Δ9","v":10.6,"lo":8.5,"hi":13},{"g":"a:Rev3l⁻ᐟ⁻","v":6.3,"lo":5.5,"hi":7.3},
  {"g":"b:CH12F3","v":8.2,"lo":7.4,"hi":9.2},{"g":"b:53bp1⁻ᐟ⁻","v":7.7,"lo":7.5,"hi":7.9},{"g":"b:Rif1⁻ᐟ⁻","v":8.4,"lo":7.2,"hi":9.8},{"g":"b:Shld3⁻ᐟ⁻","v":5.6,"lo":3.5,"hi":7.9},
  {"g":"b:Rev7⁻ᐟ⁻","v":4.6,"lo":4.3,"hi":5},{"g":"b:Rev1⁻ᐟ⁻","v":6.2,"lo":5.2,"hi":7.7},{"g":"b:Rev1Δ9/Δ9","v":9.1,"lo":6.1,"hi":12.8},{"g":"b:Rev3l⁻ᐟ⁻","v":3.1,"lo":2.1,"hi":4.1}],
 "ep": [
  {"g":"a:CH12F3","r":"k","n":1,"v":12},{"g":"a:CH12F3","r":"k","n":2,"v":10.5},{"g":"a:CH12F3","r":"k","n":3,"v":9.5},{"g":"a:CH12F3","r":"k","n":4,"v":8.5},{"g":"a:CH12F3","r":"k","n":5,"v":7.5},
  {"g":"a:53bp1⁻ᐟ⁻","r":"y","n":1,"v":12.3},{"g":"a:53bp1⁻ᐟ⁻","r":"g","n":3,"v":11},{"g":"a:53bp1⁻ᐟ⁻","r":"p","n":2,"v":11.2},
  {"g":"a:Rif1⁻ᐟ⁻","r":"p","n":2,"v":12.2},{"g":"a:Rif1⁻ᐟ⁻","r":"y","n":2,"v":10.7},{"g":"a:Rif1⁻ᐟ⁻","r":"g","n":2,"v":8.2},
  {"g":"a:Shld3⁻ᐟ⁻","r":"p","n":1,"v":14.5},{"g":"a:Shld3⁻ᐟ⁻","r":"y","n":3,"v":13.5},{"g":"a:Shld3⁻ᐟ⁻","r":"g","n":2,"v":6.3},
  {"g":"a:Rev7⁻ᐟ⁻","r":"p","n":1,"v":9.2},{"g":"a:Rev7⁻ᐟ⁻","r":"y","n":2,"v":8.4},{"g":"a:Rev7⁻ᐟ⁻","r":"g","n":3,"v":8.8},
  {"g":"a:Rev1⁻ᐟ⁻","r":"y","n":2,"v":8.3},{"g":"a:Rev1⁻ᐟ⁻","r":"g","n":1,"v":7.2},{"g":"a:Rev1⁻ᐟ⁻","r":"p","n":3,"v":7.5},
  {"g":"a:Rev1Δ9/Δ9","r":"g","n":2,"v":13.2},{"g":"a:Rev1Δ9/Δ9","r":"y","n":1,"v":9.2},{"g":"a:Rev1Δ9/Δ9","r":"p","n":3,"v":9.7},
  {"g":"a:Rev3l⁻ᐟ⁻","r":"p","n":1,"v":7},{"g":"a:Rev3l⁻ᐟ⁻","r":"y","n":3,"v":6.8},{"g":"a:Rev3l⁻ᐟ⁻","r":"g","n":2,"v":5.3},
  {"g":"b:CH12F3","r":"k","n":1,"v":9.5},{"g":"b:CH12F3","r":"k","n":2,"v":9.0},{"g":"b:CH12F3","r":"k","n":3,"v":8.0},{"g":"b:CH12F3","r":"k","n":4,"v":7.5},{"g":"b:CH12F3","r":"k","n":5,"v":7.0},
  {"g":"b:53bp1⁻ᐟ⁻","r":"y","n":1,"v":7.9},{"g":"b:53bp1⁻ᐟ⁻","r":"p","n":2,"v":7.7},{"g":"b:53bp1⁻ᐟ⁻","r":"g","n":3,"v":7.6},
  {"g":"b:Rif1⁻ᐟ⁻","r":"g","n":2,"v":9.8},{"g":"b:Rif1⁻ᐟ⁻","r":"p","n":2,"v":8.4},{"g":"b:Rif1⁻ᐟ⁻","r":"y","n":2,"v":7.0},
  {"g":"b:Shld3⁻ᐟ⁻","r":"p","n":3,"v":8.0},{"g":"b:Shld3⁻ᐟ⁻","r":"y","n":2,"v":5.8},{"g":"b:Shld3⁻ᐟ⁻","r":"g","n":1,"v":3.1},
  {"g":"b:Rev7⁻ᐟ⁻","r":"y","n":1,"v":5.0},{"g":"b:Rev7⁻ᐟ⁻","r":"p","n":3,"v":4.8},{"g":"b:Rev7⁻ᐟ⁻","r":"g","n":2,"v":4.2},
  {"g":"b:Rev1⁻ᐟ⁻","r":"y","n":2,"v":7.6},{"g":"b:Rev1⁻ᐟ⁻","r":"p","n":3,"v":6.0},{"g":"b:Rev1⁻ᐟ⁻","r":"g","n":1,"v":5.3},
  {"g":"b:Rev1Δ9/Δ9","r":"g","n":2,"v":13},{"g":"b:Rev1Δ9/Δ9","r":"y","n":1,"v":7.2},{"g":"b:Rev1Δ9/Δ9","r":"p","n":3,"v":7.2},
  {"g":"b:Rev3l⁻ᐟ⁻","r":"p","n":1,"v":3.8},{"g":"b:Rev3l⁻ᐟ⁻","r":"y","n":3,"v":3.3},{"g":"b:Rev3l⁻ᐟ⁻","r":"g","n":2,"v":2.1}],
 "es": [
  {"g":"a:CH12F3","t":20.2,"b":14,"lab":"","ly":0},{"g":"a:53bp1⁻ᐟ⁻","t":20.2,"b":18.5,"lab":"ns","ly":17.2},{"g":"a:Rif1⁻ᐟ⁻","t":20.2,"b":18.5,"lab":"ns","ly":17.2},{"g":"a:Shld3⁻ᐟ⁻","t":20.2,"b":18.5,"lab":"ns","ly":17.2},
  {"g":"a:Rev7⁻ᐟ⁻","t":20.2,"b":18.5,"lab":"ns","ly":17.2},{"g":"a:Rev1⁻ᐟ⁻","t":20.2,"b":18.5,"lab":"ns","ly":17.2},{"g":"a:Rev1Δ9/Δ9","t":20.2,"b":18.5,"lab":"ns","ly":17.2},{"g":"a:Rev3l⁻ᐟ⁻","t":20.2,"b":18.5,"lab":"ns","ly":17.2},
  {"g":"b:CH12F3","t":17.4,"b":10.5,"lab":"","ly":0},{"g":"b:53bp1⁻ᐟ⁻","t":17.4,"b":15.8,"lab":"ns","ly":14.4},{"g":"b:Rif1⁻ᐟ⁻","t":17.4,"b":15.8,"lab":"ns","ly":14.4},{"g":"b:Shld3⁻ᐟ⁻","t":17.4,"b":15.8,"lab":"ns","ly":14.4},
  {"g":"b:Rev7⁻ᐟ⁻","t":17.4,"b":15.8,"lab":"*","ly":14.4},{"g":"b:Rev1⁻ᐟ⁻","t":17.4,"b":15.8,"lab":"ns","ly":14.4},{"g":"b:Rev1Δ9/Δ9","t":17.4,"b":15.8,"lab":"ns","ly":14.4},{"g":"b:Rev3l⁻ᐟ⁻","t":17.4,"b":15.8,"lab":"**","ly":14.4}],
 "f": [
  {"g":"a:CH12F3","v":16,"lo":12,"hi":19},{"g":"a:53bp1⁻ᐟ⁻","v":15,"lo":10.5,"hi":19},{"g":"a:Rif1⁻ᐟ⁻","v":15,"lo":14.5,"hi":15.5},{"g":"a:Shld3⁻ᐟ⁻","v":17,"lo":14.5,"hi":19.5},
  {"g":"a:Rev7⁻ᐟ⁻","v":22,"lo":20,"hi":24},{"g":"a:Rev1⁻ᐟ⁻","v":16,"lo":9.5,"hi":22},{"g":"a:Rev1Δ9/Δ9","v":15.5,"lo":10,"hi":20},{"g":"a:Rev3l⁻ᐟ⁻","v":28,"lo":26,"hi":30},
  {"g":"b:CH12F3","v":16.5,"lo":14,"hi":19},{"g":"b:53bp1⁻ᐟ⁻","v":16,"lo":14,"hi":18},{"g":"b:Rif1⁻ᐟ⁻","v":21.5,"lo":19.5,"hi":23.5},{"g":"b:Shld3⁻ᐟ⁻","v":27,"lo":24.5,"hi":29.5},
  {"g":"b:Rev7⁻ᐟ⁻","v":33.5,"lo":30,"hi":37},{"g":"b:Rev1⁻ᐟ⁻","v":19,"lo":15,"hi":23},{"g":"b:Rev1Δ9/Δ9","v":20.5,"lo":17,"hi":25},{"g":"b:Rev3l⁻ᐟ⁻","v":44,"lo":40,"hi":48}],
 "fp": [
  {"g":"a:CH12F3","r":"k","n":1,"v":19},{"g":"a:CH12F3","r":"k","n":2,"v":18},{"g":"a:CH12F3","r":"k","n":3,"v":17.5},{"g":"a:CH12F3","r":"k","n":4,"v":16.5},{"g":"a:CH12F3","r":"k","n":5,"v":16},{"g":"a:CH12F3","r":"k","n":6,"v":15},
  {"g":"a:CH12F3","r":"k","n":7,"v":13},{"g":"a:CH12F3","r":"k","n":8,"v":12},{"g":"a:CH12F3","r":"k","n":9,"v":10},{"g":"a:CH12F3","r":"k","n":10,"v":9},{"g":"a:CH12F3","r":"k","n":11,"v":11},
  {"g":"a:53bp1⁻ᐟ⁻","r":"g","n":2,"v":19.2},{"g":"a:53bp1⁻ᐟ⁻","r":"p","n":3,"v":14.5},{"g":"a:53bp1⁻ᐟ⁻","r":"y","n":1,"v":11.5},
  {"g":"a:Rif1⁻ᐟ⁻","r":"y","n":1,"v":15},{"g":"a:Rif1⁻ᐟ⁻","r":"p","n":3,"v":14.8},{"g":"a:Rif1⁻ᐟ⁻","r":"g","n":2,"v":14.6},
  {"g":"a:Shld3⁻ᐟ⁻","r":"p","n":2,"v":19.5},{"g":"a:Shld3⁻ᐟ⁻","r":"g","n":3,"v":15.8},{"g":"a:Shld3⁻ᐟ⁻","r":"y","n":1,"v":14.5},
  {"g":"a:Rev7⁻ᐟ⁻","r":"y","n":1,"v":24},{"g":"a:Rev7⁻ᐟ⁻","r":"g","n":3,"v":22.8},{"g":"a:Rev7⁻ᐟ⁻","r":"p","n":2,"v":19.5},{"g":"a:Rev7⁻ᐟ⁻","r":"t","n":4,"v":22},
  {"g":"a:Rev1⁻ᐟ⁻","r":"p","n":4,"v":24.8},{"g":"a:Rev1⁻ᐟ⁻","r":"y","n":2,"v":15.5},{"g":"a:Rev1⁻ᐟ⁻","r":"t","n":3,"v":11},{"g":"a:Rev1⁻ᐟ⁻","r":"g","n":1,"v":10.5},
  {"g":"a:Rev1Δ9/Δ9","r":"t","n":3,"v":19},{"g":"a:Rev1Δ9/Δ9","r":"g","n":1,"v":17.5},{"g":"a:Rev1Δ9/Δ9","r":"p","n":2,"v":8.5},
  {"g":"a:Rev3l⁻ᐟ⁻","r":"t","n":3,"v":29.5},{"g":"a:Rev3l⁻ᐟ⁻","r":"g","n":1,"v":28.5},{"g":"a:Rev3l⁻ᐟ⁻","r":"p","n":4,"v":27},{"g":"a:Rev3l⁻ᐟ⁻","r":"y","n":2,"v":26},
  {"g":"b:CH12F3","r":"k","n":1,"v":20},{"g":"b:CH12F3","r":"k","n":2,"v":18.5},{"g":"b:CH12F3","r":"k","n":3,"v":17.5},{"g":"b:CH12F3","r":"k","n":4,"v":16},{"g":"b:CH12F3","r":"k","n":5,"v":15.5},{"g":"b:CH12F3","r":"k","n":6,"v":14},{"g":"b:CH12F3","r":"k","n":7,"v":13},{"g":"b:CH12F3","r":"k","n":8,"v":18},
  {"g":"b:53bp1⁻ᐟ⁻","r":"g","n":2,"v":17.2},{"g":"b:53bp1⁻ᐟ⁻","r":"y","n":3,"v":16.6},{"g":"b:53bp1⁻ᐟ⁻","r":"p","n":1,"v":14},
  {"g":"b:Rif1⁻ᐟ⁻","r":"p","n":2,"v":23.5},{"g":"b:Rif1⁻ᐟ⁻","r":"g","n":3,"v":22},{"g":"b:Rif1⁻ᐟ⁻","r":"y","n":1,"v":20},
  {"g":"b:Shld3⁻ᐟ⁻","r":"g","n":1,"v":29.5},{"g":"b:Shld3⁻ᐟ⁻","r":"p","n":3,"v":28},{"g":"b:Shld3⁻ᐟ⁻","r":"y","n":2,"v":24.5},
  {"g":"b:Rev7⁻ᐟ⁻","r":"g","n":3,"v":37.5},{"g":"b:Rev7⁻ᐟ⁻","r":"p","n":2,"v":36},{"g":"b:Rev7⁻ᐟ⁻","r":"y","n":1,"v":31},{"g":"b:Rev7⁻ᐟ⁻","r":"t","n":4,"v":29.5},
  {"g":"b:Rev1⁻ᐟ⁻","r":"p","n":3,"v":22.5},{"g":"b:Rev1⁻ᐟ⁻","r":"y","n":1,"v":22.5},{"g":"b:Rev1⁻ᐟ⁻","r":"g","n":4,"v":17},{"g":"b:Rev1⁻ᐟ⁻","r":"t","n":2,"v":14.5},
  {"g":"b:Rev1Δ9/Δ9","r":"t","n":3,"v":27},{"g":"b:Rev1Δ9/Δ9","r":"g","n":2,"v":20.5},{"g":"b:Rev1Δ9/Δ9","r":"y","n":4,"v":18},{"g":"b:Rev1Δ9/Δ9","r":"p","n":1,"v":17},
  {"g":"b:Rev3l⁻ᐟ⁻","r":"p","n":2,"v":50},{"g":"b:Rev3l⁻ᐟ⁻","r":"t","n":2,"v":45.5},{"g":"b:Rev3l⁻ᐟ⁻","r":"g","n":3,"v":42.5},{"g":"b:Rev3l⁻ᐟ⁻","r":"y","n":1,"v":41}],
 "fs": [
  {"g":"a:CH12F3","t":44.4,"b":25,"lab":"","ly":0},{"g":"a:53bp1⁻ᐟ⁻","t":44.4,"b":39,"lab":"ns","ly":35},{"g":"a:Rif1⁻ᐟ⁻","t":44.4,"b":39,"lab":"ns","ly":35},{"g":"a:Shld3⁻ᐟ⁻","t":44.4,"b":39,"lab":"ns","ly":35},
  {"g":"a:Rev7⁻ᐟ⁻","t":44.4,"b":39,"lab":"*","ly":35},{"g":"a:Rev1⁻ᐟ⁻","t":44.4,"b":39,"lab":"ns","ly":35},{"g":"a:Rev1Δ9/Δ9","t":44.4,"b":39,"lab":"ns","ly":35},{"g":"a:Rev3l⁻ᐟ⁻","t":44.4,"b":39,"lab":"****","ly":35},
  {"g":"b:CH12F3","t":59,"b":28,"lab":"","ly":0},{"g":"b:53bp1⁻ᐟ⁻","t":59,"b":53,"lab":"ns","ly":48.5},{"g":"b:Rif1⁻ᐟ⁻","t":59,"b":53,"lab":"ns","ly":48.5},{"g":"b:Shld3⁻ᐟ⁻","t":59,"b":53,"lab":"**","ly":48.5},
  {"g":"b:Rev7⁻ᐟ⁻","t":59,"b":53,"lab":"****","ly":48.5},{"g":"b:Rev1⁻ᐟ⁻","t":59,"b":53,"lab":"ns","ly":48.5},{"g":"b:Rev1Δ9/Δ9","t":59,"b":53,"lab":"ns","ly":48.5},{"g":"b:Rev3l⁻ᐟ⁻","t":59,"b":57,"lab":"****","ly":54.8}]
},
"config": {
 "font": "Liberation Sans",
 "view": {"stroke": null},
 "axis": {"domainColor": "#000", "tickColor": "#000", "labelColor": "#000", "titleColor": "#000", "grid": false, "labelFontSize": 12, "titleFontSize": 12.5, "titleFontWeight": "normal", "tickSize": 4, "labelPadding": 2, "titlePadding": 5, "labelFont": "Liberation Sans", "titleFont": "Liberation Sans"},
 "title": {"fontSize": 16, "fontWeight": "bold", "anchor": "start", "frame": "group", "baseline": "middle", "font": "Liberation Sans", "color": "#000"},
 "legend": {"labelFont": "Liberation Sans"},
 "text": {"font": "Liberation Sans"}
}
}
